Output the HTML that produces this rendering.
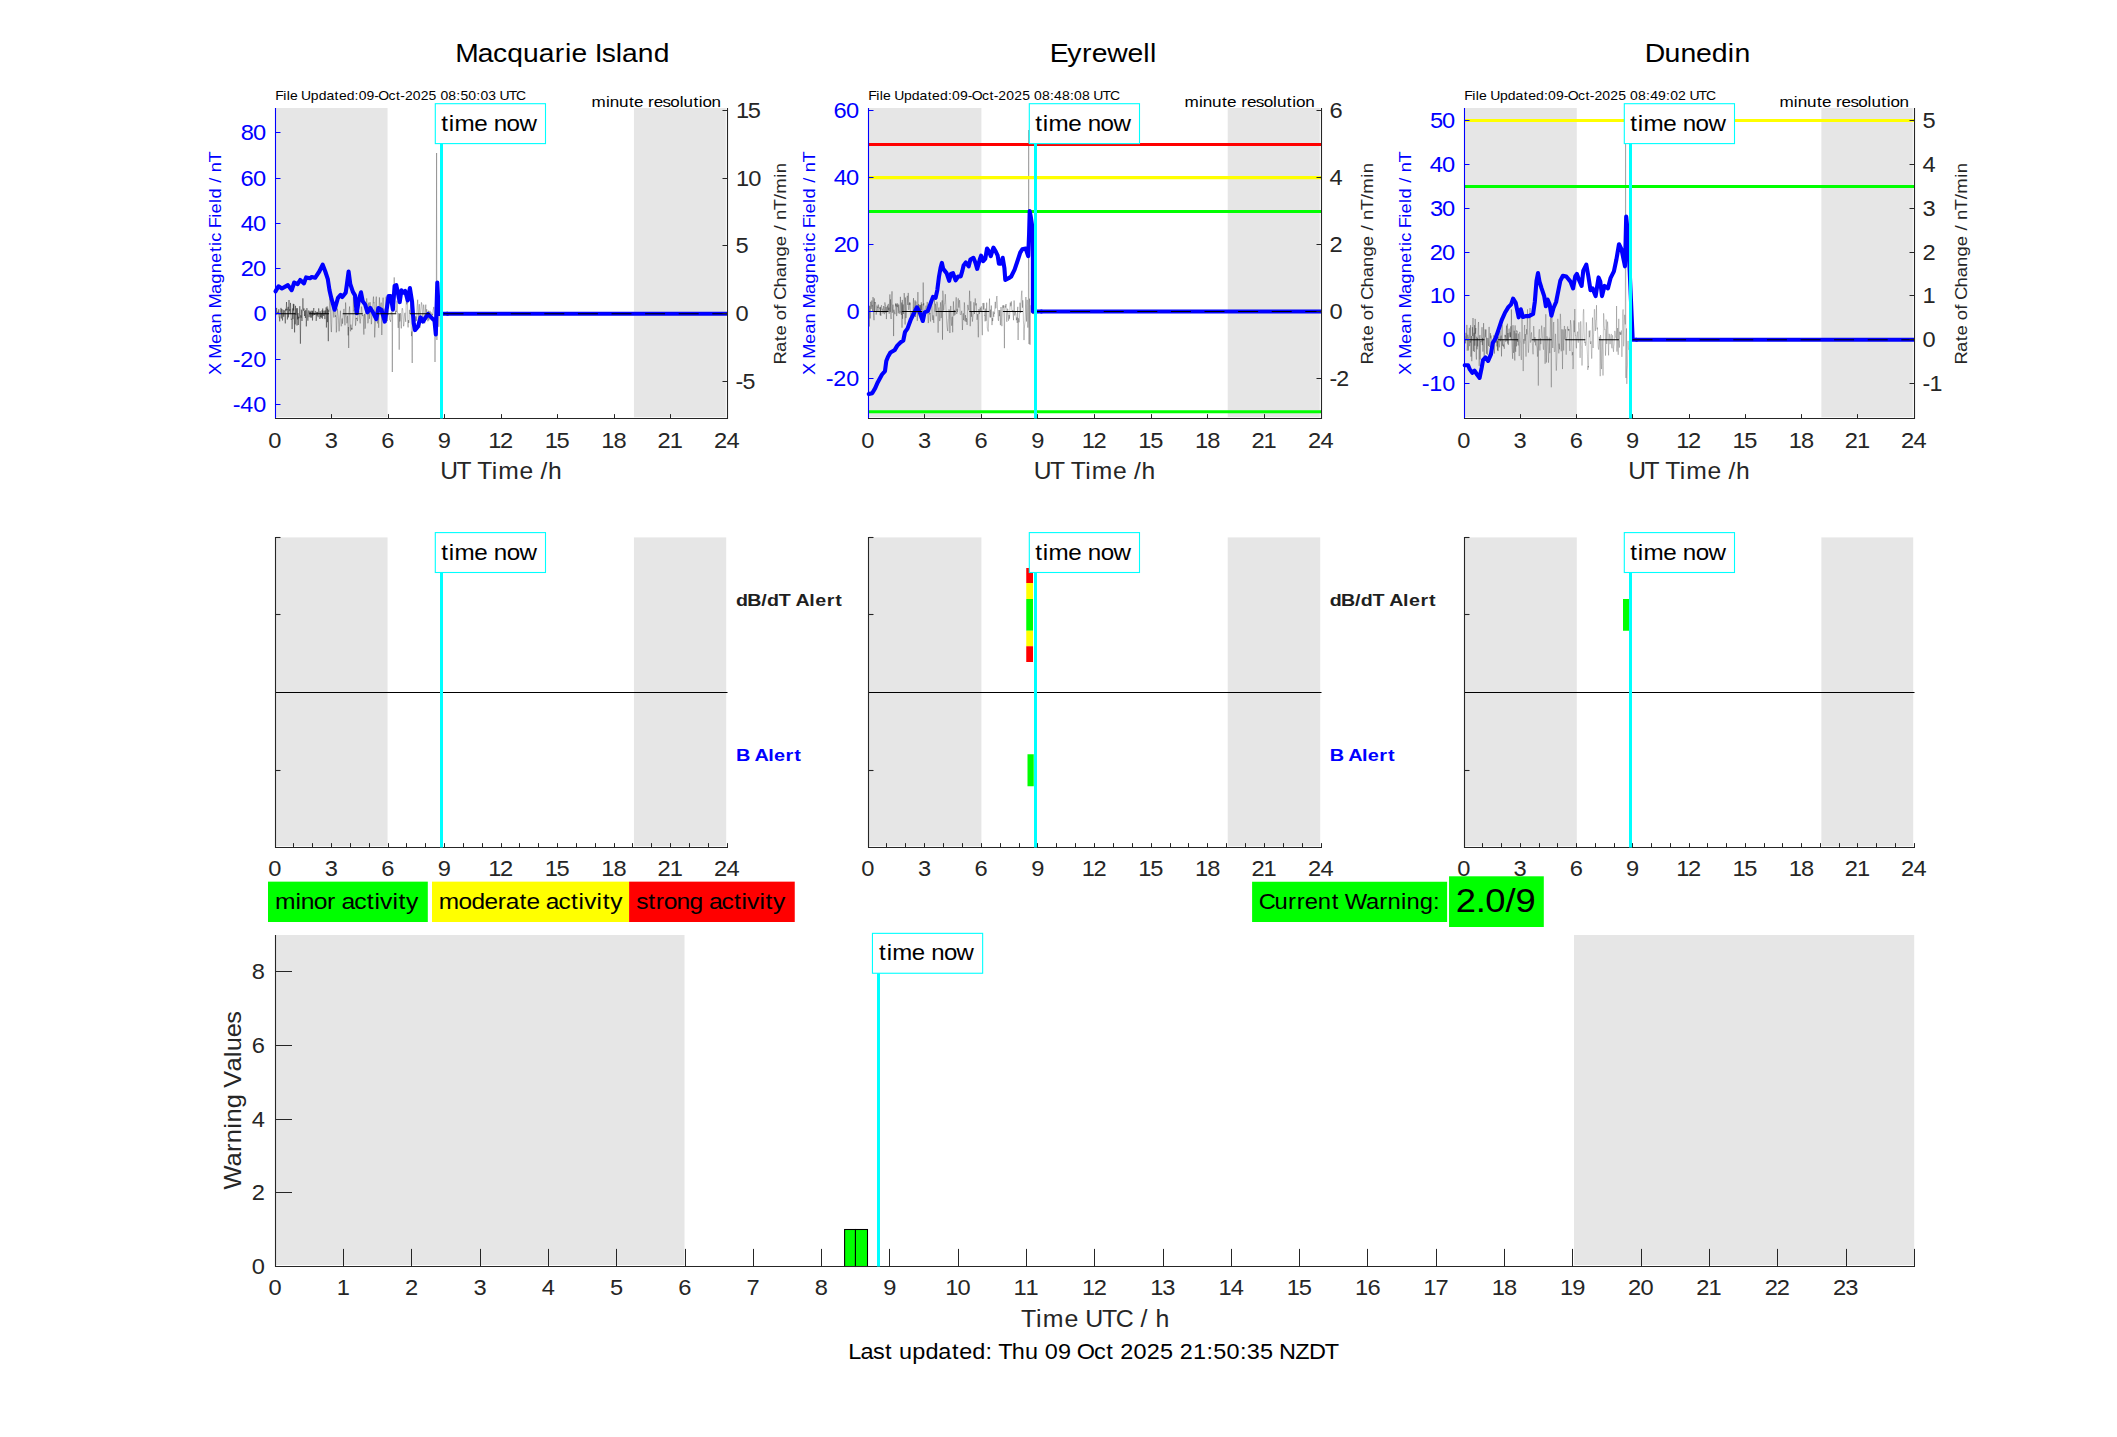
<!DOCTYPE html>
<html lang="en"><head><meta charset="utf-8"><title>Geomagnetic warning plots</title>
<style>html,body{margin:0;padding:0;background:#fff}svg text{font-family:"Liberation Sans",sans-serif;white-space:pre}</style>
</head><body>
<svg width="2117" height="1437" viewBox="0 0 2117 1437" font-family='"Liberation Sans", sans-serif' style="display:block">
<rect x="0.00" y="0.00" width="2117.00" height="1437.00" fill="#FFFFFF"/>
<rect x="276.00" y="108.00" width="111.55" height="309.30" fill="#E6E6E6"/>
<rect x="633.93" y="108.00" width="91.87" height="309.30" fill="#E6E6E6"/>
<polyline points="276.0,315.3 276.3,314.2 276.6,307.9 276.9,312.8 277.2,312.6 277.5,313.5 277.9,311.7 278.2,313.4 278.5,312.2 278.8,309.3 279.1,317.2 279.4,316.9 279.7,321.4 280.0,313.9 280.3,312.4 280.6,312.0 281.0,307.9 281.3,318.5 281.6,309.7 281.9,309.0 282.2,313.0 282.5,320.5 282.8,314.8 283.1,309.8 283.4,310.8 283.7,316.7 284.0,313.1 284.4,310.4 284.7,312.8 285.0,317.5 285.3,323.4 285.6,308.8 285.9,310.9 286.2,310.2 286.5,302.0 286.8,309.9 287.1,308.8 287.4,319.5 287.8,313.2 288.1,306.8 288.4,317.4 288.7,312.1 289.0,300.0 289.3,310.6 289.6,310.8 289.9,309.2 290.2,313.9 290.5,302.9 290.9,312.4 291.2,319.6 291.5,318.8 291.8,320.7 292.1,329.0 292.4,322.3 292.7,308.4 293.0,319.2 293.3,303.8 293.6,310.5 293.9,304.2 294.3,320.6 294.6,332.4 294.9,312.8 295.2,324.4 295.5,305.8 295.8,314.8 296.1,314.7 296.4,308.3 296.7,316.6 297.0,325.5 297.4,308.2 297.7,319.4 298.0,313.0 298.3,325.0 298.6,316.8 298.9,318.3 299.2,318.0 299.5,315.3 299.8,306.2 300.1,322.2 300.4,343.7 300.8,315.3 301.1,317.7 301.4,309.6 301.7,315.8 302.0,321.0 302.3,313.6 302.6,309.5 302.9,298.3 303.2,308.4 303.5,310.7 303.8,308.4 304.2,308.6 304.5,316.0 304.8,311.0 305.1,313.2 305.4,318.0 305.7,309.9 306.0,312.3 306.3,326.4 306.6,319.1 306.9,308.1 307.3,313.4 307.6,317.0 307.9,320.7 308.2,314.6 308.5,311.3 308.8,310.4 309.1,317.2 309.4,315.3 309.7,311.4 310.0,312.9 310.3,312.1 310.7,317.6 311.0,310.8 311.3,316.2 311.6,317.5 311.9,316.2 312.2,310.6 312.5,320.5 312.8,311.3 313.1,315.6 313.4,311.2 313.8,308.0 314.1,314.7 314.4,315.0 314.7,313.5 315.0,314.8 315.3,311.3 315.6,311.1 315.9,313.1 316.2,320.9 316.5,316.6 316.8,311.9 317.2,315.6 317.5,312.2 317.8,312.1 318.1,317.2 318.4,312.0 318.7,308.4 319.0,310.9 319.3,314.1 319.6,314.3 319.9,319.0 320.2,311.3 320.6,317.3 320.9,315.8 321.2,313.2 321.5,317.6 321.8,316.2 322.1,310.3 322.4,318.7 322.7,308.5 323.0,314.0 323.3,313.8 323.7,316.0 324.0,310.8 324.3,313.6 324.6,313.2 324.9,319.1 325.2,310.4 325.5,314.2 325.8,312.6 326.1,307.4 326.4,327.5 326.7,313.4 327.1,306.4 327.4,322.2 327.7,308.7 328.0,315.9 328.3,341.2 328.6,310.4 328.9,311.6 329.2,308.7" fill="none" stroke="#000000" stroke-width="0.5" stroke-opacity="0.72" stroke-linejoin="round"/>
<polyline points="329.2,308.7 329.5,306.3 329.8,298.5 330.2,300.4 330.5,312.4 330.8,322.8 331.1,329.7 331.4,332.1 331.7,323.8 332.0,312.3 332.3,305.5 332.6,296.6 332.9,297.9 333.2,304.9 333.6,314.4 333.9,317.5 334.2,310.0 334.5,302.2 334.8,302.1 335.1,309.0 335.4,316.9 335.7,315.3 336.0,317.2 336.3,332.4 336.6,330.4 337.0,315.7 337.3,308.6 337.6,310.3 337.9,313.6 338.2,316.1 338.5,320.7 338.8,327.0 339.1,331.3 339.4,327.2 339.7,319.1 340.1,314.8 340.4,310.7 340.7,315.1 341.0,325.4 341.3,326.3 341.6,326.0 341.9,319.5 342.2,318.5 342.5,323.7 342.8,319.7 343.1,316.0 343.5,311.9 343.8,309.3 344.1,308.9 344.4,314.4 344.7,322.3 345.0,325.3 345.3,316.1 345.6,302.5 345.9,307.8 346.2,317.0 346.6,317.8 346.9,323.3 347.2,321.3 347.5,315.7 347.8,324.8 348.1,335.4 348.4,327.0 348.7,348.0 349.0,312.5 349.3,309.7 349.6,306.5 350.0,316.2 350.3,331.0 350.6,331.3 350.9,324.6 351.2,327.7 351.5,329.6 351.8,327.9 352.1,329.6 352.4,326.8 352.7,322.2 353.0,317.1 353.4,296.6 353.7,307.1 354.0,311.4 354.3,310.0 354.6,309.4 354.9,308.9 355.2,315.8 355.5,325.7 355.8,323.7 356.1,318.1 356.5,319.0 356.8,317.8 357.1,318.3 357.4,321.1 357.7,318.9 358.0,312.9 358.3,314.3 358.6,313.4 358.9,311.1 359.2,314.0 359.5,316.3 359.9,321.7 360.2,323.4 360.5,319.0 360.8,318.4 361.1,313.8 361.4,306.6 361.7,307.6 362.0,311.4 362.3,313.5 362.6,316.1 363.0,314.8 363.3,316.3 363.6,329.2 363.9,334.6 364.2,320.2 364.5,313.9 364.8,319.4 365.1,328.7 365.4,326.8 365.7,310.4 366.0,304.3 366.4,302.4 366.7,298.4 367.0,301.5 367.3,307.2 367.6,312.3 367.9,323.3 368.2,321.6 368.5,306.7 368.8,302.6 369.1,311.3 369.4,318.8 369.8,308.2 370.1,302.2 370.4,309.7 370.7,313.9 371.0,316.5 371.3,324.2 371.6,322.9 371.9,314.9 372.2,309.7 372.5,310.0 372.9,305.2 373.2,298.9 373.5,296.6 373.8,303.2 374.1,302.5 374.4,310.4 374.7,337.4 375.0,328.7 375.3,326.1 375.6,319.6 375.9,301.0 376.3,296.6 376.6,307.2 376.9,320.0 377.2,321.0 377.5,323.4 377.8,318.1 378.1,308.1 378.4,317.8 378.7,327.8 379.0,309.7 379.4,297.4 379.7,303.5 380.0,311.4 380.3,311.9 380.6,309.7 380.9,304.4 381.2,302.6 381.5,318.1 381.8,335.0 382.1,323.8 382.4,309.4 382.8,302.4 383.1,297.6 383.4,306.5 383.7,311.2 384.0,308.7 384.3,313.2 384.6,319.7 384.9,321.5 385.2,318.9 385.5,309.8 385.8,298.3 386.2,296.6 386.5,308.3 386.8,314.2 387.1,319.8 387.4,321.1 387.7,312.4 388.0,310.4 388.3,314.0 388.6,314.8 388.9,314.4 389.3,316.0 389.6,319.7 389.9,319.8 390.2,320.1 390.5,321.8 390.8,318.3 391.1,311.7 391.4,311.7 391.7,313.4 392.0,317.4 392.3,372.0 392.7,307.5 393.0,303.6 393.3,307.0 393.6,307.9 393.9,305.9 394.2,277.4 394.5,306.2 394.8,305.7 395.1,307.3 395.4,313.2 395.8,311.1 396.1,310.8 396.4,312.2 396.7,308.0 397.0,300.6 397.3,307.2 397.6,315.7 397.9,325.0 398.2,327.9 398.5,323.3 398.8,313.1 399.2,349.7 399.5,313.7 399.8,321.5 400.1,320.4 400.4,313.1 400.7,314.8 401.0,323.9 401.3,328.4 401.6,319.4 401.9,309.9 402.2,308.2 402.6,308.8 402.9,311.6 403.2,320.0 403.5,326.1 403.8,326.3 404.1,322.8 404.4,316.0 404.7,313.5 405.0,312.8 405.3,316.8 405.7,321.8 406.0,311.9 406.3,296.6 406.6,304.3 406.9,304.2 407.2,301.1 407.5,299.2 407.8,324.4 408.1,327.4 408.4,320.1 408.7,323.0 409.1,322.1 409.4,310.4 409.7,309.8 410.0,313.9 410.3,309.6 410.6,303.3 410.9,309.5 411.2,325.7 411.5,336.1 411.8,331.5 412.2,363.0 412.5,330.0 412.8,320.5 413.1,309.8 413.4,313.2 413.7,315.9 414.0,316.2 414.3,319.9 414.6,324.3 414.9,319.8 415.2,316.2 415.6,321.6 415.9,318.0 416.2,316.5 416.5,320.9 416.8,313.1 417.1,306.3 417.4,302.9 417.7,299.7 418.0,311.4 418.3,323.2 418.6,314.0 419.0,306.7 419.3,304.2 419.6,311.0 419.9,327.7 420.2,324.3 420.5,312.8 420.8,309.1 421.1,306.1 421.4,302.4 421.7,303.1 422.1,306.0 422.4,315.1 422.7,320.9 423.0,319.2 423.3,309.9 423.6,304.7 423.9,305.8 424.2,310.8 424.5,318.9 424.8,323.3 425.1,319.8 425.5,308.7 425.8,304.6 426.1,318.7 426.4,319.9 426.7,309.2 427.0,313.7 427.3,318.5 427.6,316.4 427.9,321.3 428.2,313.7 428.6,310.7 428.9,320.3 429.2,318.0 429.5,313.4 429.8,311.4 430.1,310.9 430.4,316.1 430.7,315.2 431.0,312.3 431.3,313.6 431.6,317.9 432.0,317.7 432.3,313.8 432.6,315.1 432.9,312.7 433.2,309.1 433.5,308.9 433.8,306.9 434.1,310.7 434.4,316.4 434.7,318.1 435.0,362.0 435.4,316.2 435.7,307.1 436.0,301.9 436.3,307.3 436.6,153.0 436.9,340.0 437.2,312.5 437.5,312.5 437.8,306.2 438.1,304.9 438.5,316.7 438.8,326.8 439.1,319.8 439.4,311.5 439.7,315.9" fill="none" stroke="#000000" stroke-width="0.5" stroke-opacity="0.5" stroke-linejoin="round"/>
<polyline points="275.5,291.4 278.5,286.3 281.9,288.5 287.9,285.1 291.7,290.2 294.2,282.5 297.6,284.2 300.2,280.0 304.0,283.4 306.1,277.4 310.0,278.3 311.7,277.0 315.1,277.8 319.3,271.5 322.7,264.7 325.3,271.5 327.8,279.1 329.5,290.2 331.2,297.8 334.6,309.7 338.0,297.8 340.6,294.8 342.3,297.0 345.7,292.7 346.9,284.2 348.6,271.5 350.3,284.2 352.9,291.9 355.0,295.3 356.7,313.1 358.9,299.5 361.0,292.3 362.7,301.2 365.2,304.6 367.4,312.3 370.3,308.0 372.9,312.3 376.3,319.1 378.4,308.0 381.4,309.7 384.8,321.6 386.9,308.0 388.6,296.1 390.7,296.1 392.9,309.7 394.6,285.9 396.3,285.1 397.5,291.0 399.7,302.1 401.4,290.2 403.5,292.7 405.2,291.0 407.7,300.4 409.9,288.0 412.0,301.2 413.7,323.3 415.0,330.1 417.9,326.7 420.5,317.4 423.0,321.6 425.6,317.4 428.1,314.0 430.7,316.9 434.5,320.8 435.8,334.4 437.3,282.5 438.8,314.0 443.7,313.8 447.5,313.8" fill="none" stroke="#0000FF" stroke-width="4.1" stroke-linejoin="round" stroke-linecap="round"/>
<line x1="446.50" y1="313.75" x2="727.00" y2="313.75" stroke="#0000FF" stroke-width="4.1"/>
<line x1="275.50" y1="313.75" x2="727.00" y2="313.75" stroke="#000000" stroke-width="1.1" stroke-dasharray="20 13.6"/>
<line x1="275.50" y1="108.00" x2="275.50" y2="419.00" stroke="#0000FF" stroke-width="1.1"/>
<line x1="727.50" y1="108.00" x2="727.50" y2="419.00" stroke="#262626" stroke-width="1.1"/>
<line x1="275.00" y1="418.50" x2="728.00" y2="418.50" stroke="#262626" stroke-width="1.1"/>
<text transform="translate(268.32,447.55) scale(1.1107,1)" x="0.00" font-size="21.32" fill="#262626">0</text>
<line x1="331.50" y1="418.50" x2="331.50" y2="414.10" stroke="#262626" stroke-width="1.05"/>
<text transform="translate(324.82,447.55) scale(1.1107,1)" x="0.00" font-size="21.32" fill="#262626">3</text>
<line x1="388.50" y1="418.50" x2="388.50" y2="414.10" stroke="#262626" stroke-width="1.05"/>
<text transform="translate(381.32,447.55) scale(1.1107,1)" x="0.00" font-size="21.32" fill="#262626">6</text>
<line x1="444.50" y1="418.50" x2="444.50" y2="414.10" stroke="#262626" stroke-width="1.05"/>
<text transform="translate(437.82,447.55) scale(1.1107,1)" x="0.00" font-size="21.32" fill="#262626">9</text>
<line x1="501.50" y1="418.50" x2="501.50" y2="414.10" stroke="#262626" stroke-width="1.05"/>
<text transform="translate(487.73,447.55) scale(1.1107,1)" x="0.42 11.06" font-size="21.32" fill="#262626">12</text>
<line x1="557.50" y1="418.50" x2="557.50" y2="414.10" stroke="#262626" stroke-width="1.05"/>
<text transform="translate(544.23,447.55) scale(1.1107,1)" x="0.42 11.12" font-size="21.32" fill="#262626">15</text>
<line x1="614.50" y1="418.50" x2="614.50" y2="414.10" stroke="#262626" stroke-width="1.05"/>
<text transform="translate(600.73,447.55) scale(1.1107,1)" x="0.42 11.51" font-size="21.32" fill="#262626">18</text>
<line x1="670.50" y1="418.50" x2="670.50" y2="414.10" stroke="#262626" stroke-width="1.05"/>
<text transform="translate(657.23,447.55) scale(1.1107,1)" x="0.29 11.18" font-size="21.32" fill="#262626">21</text>
<text transform="translate(713.73,447.55) scale(1.1107,1)" x="0.29 11.44" font-size="21.32" fill="#262626">24</text>
<line x1="275.50" y1="132.50" x2="280.50" y2="132.50" stroke="#0000FF" stroke-width="1.05"/>
<text transform="translate(240.36,139.50) scale(1.1107,1)" x="0.34 11.45" font-size="21.32" fill="#0000FF">80</text>
<line x1="275.50" y1="178.50" x2="280.50" y2="178.50" stroke="#0000FF" stroke-width="1.05"/>
<text transform="translate(240.36,185.50) scale(1.1107,1)" x="0.22 11.45" font-size="21.32" fill="#0000FF">60</text>
<line x1="275.50" y1="223.50" x2="280.50" y2="223.50" stroke="#0000FF" stroke-width="1.05"/>
<text transform="translate(240.36,230.50) scale(1.1107,1)" x="0.42 11.45" font-size="21.32" fill="#0000FF">40</text>
<line x1="275.50" y1="268.50" x2="280.50" y2="268.50" stroke="#0000FF" stroke-width="1.05"/>
<text transform="translate(240.36,275.50) scale(1.1107,1)" x="0.29 11.45" font-size="21.32" fill="#0000FF">20</text>
<line x1="275.50" y1="313.50" x2="280.50" y2="313.50" stroke="#0000FF" stroke-width="1.05"/>
<text transform="translate(253.53,320.50) scale(1.1107,1)" x="0.00" font-size="21.32" fill="#0000FF">0</text>
<line x1="275.50" y1="359.50" x2="280.50" y2="359.50" stroke="#0000FF" stroke-width="1.05"/>
<text transform="translate(232.89,366.50) scale(1.0972,1)" x="-0.03 6.77 18.54" font-size="21.32" fill="#0000FF">-20</text>
<line x1="275.50" y1="404.50" x2="280.50" y2="404.50" stroke="#0000FF" stroke-width="1.05"/>
<text transform="translate(232.89,411.50) scale(1.0972,1)" x="-0.03 6.77 18.54" font-size="21.32" fill="#0000FF">-40</text>
<line x1="727.50" y1="110.50" x2="722.50" y2="110.50" stroke="#262626" stroke-width="1.05"/>
<text transform="translate(735.50,117.80) scale(1.1107,1)" x="0.42 11.12" font-size="21.32" fill="#262626">15</text>
<line x1="727.50" y1="178.50" x2="722.50" y2="178.50" stroke="#262626" stroke-width="1.05"/>
<text transform="translate(735.50,185.80) scale(1.1107,1)" x="0.42 11.45" font-size="21.32" fill="#262626">10</text>
<line x1="727.50" y1="245.50" x2="722.50" y2="245.50" stroke="#262626" stroke-width="1.05"/>
<text transform="translate(735.50,252.80) scale(1.1107,1)" x="0.00" font-size="21.32" fill="#262626">5</text>
<line x1="727.50" y1="313.50" x2="722.50" y2="313.50" stroke="#262626" stroke-width="1.05"/>
<text transform="translate(735.50,320.80) scale(1.1107,1)" x="0.00" font-size="21.32" fill="#262626">0</text>
<line x1="727.50" y1="381.50" x2="722.50" y2="381.50" stroke="#262626" stroke-width="1.05"/>
<text transform="translate(735.50,388.80) scale(1.0887,1)" x="-0.02 6.33" font-size="21.32" fill="#262626">-5</text>
<line x1="441.50" y1="104.00" x2="441.50" y2="418.50" stroke="#00FFFF" stroke-width="3.0"/>
<rect x="435.30" y="103.70" width="110.20" height="39.90" fill="#FFFFFF" stroke="#00FFFF" stroke-width="1.1"/>
<text transform="translate(441.04,130.65) scale(1.1260,1)" x="0.17 6.90 11.86 29.47 41.03 46.77 58.23 69.62" font-size="21.48" fill="#000000">time now</text>
<text transform="translate(455.08,62.00) scale(1.0842,1)" x="0.15 20.86 35.05 48.04 62.74 77.18 91.92 101.31 107.29 121.70 128.75 135.29 148.12 154.07 168.51 183.21" font-size="26.02" fill="#000000">Macquarie Island</text>
<text transform="translate(275.27,99.80) scale(1.0832,1)" x="0.08 7.46 10.62 13.58 20.71 23.87 32.77 40.06 47.21 54.75 58.73 65.90 73.25 77.03 84.33 91.48 95.19 104.65 111.47 115.42 119.69 126.99 134.28 141.58 148.83 152.50 159.80 167.16 170.94 178.24 185.60 189.38 196.68 203.93 207.09 215.51 222.30" font-size="12.87" fill="#000000">File Updated:09-Oct-2025 08:50:03 UTC</text>
<text transform="translate(591.36,106.60) scale(1.1259,1)" x="0.18 12.96 16.37 24.63 33.42 37.87 46.05 50.37 55.37 63.19 70.15 78.47 81.87 90.66 95.44 98.70 106.81" font-size="15.15" fill="#000000">minute resolution</text>
<text transform="translate(440.08,478.70) scale(1.0656,1)" x="0.05 15.40 28.95 34.80 48.58 54.62 74.48 87.45 94.27 101.19" font-size="23.12" fill="#262626">UT Time /h</text>
<text transform="translate(220.90,375.19) rotate(-90) scale(1.0751,1)" x="0.08 11.06 15.38 29.05 38.45 48.00 57.64 61.97 75.62 85.17 94.89 104.45 114.52 120.11 124.08 132.61 136.61 146.44 150.43 160.10 164.24 173.90 178.90 183.90 188.82 197.88" font-size="17.00" fill="#0000FF">X Mean Magnetic Field / nT</text>
<text transform="translate(785.90,364.53) rotate(-90) scale(1.0857,1)" x="0.10 11.44 21.43 26.69 36.13 40.79 50.47 55.53 59.44 70.97 80.42 89.88 99.51 108.99 118.43 123.38 128.32 133.16 142.14 152.16 157.37 172.08 176.13" font-size="17.06" fill="#262626">Rate of Change / nT/min</text>
<rect x="869.00" y="108.00" width="112.40" height="309.30" fill="#E6E6E6"/>
<rect x="1227.72" y="108.00" width="92.08" height="309.30" fill="#E6E6E6"/>
<polyline points="869.0,305.3 869.3,326.5 869.6,305.9 869.9,308.3 870.2,318.5 870.6,301.8 870.9,303.8 871.2,308.9 871.5,305.4 871.8,300.5 872.1,306.3 872.4,305.4 872.7,311.9 873.0,297.0 873.4,303.2 873.7,315.6 874.0,320.2 874.3,298.4 874.6,311.8 874.9,302.0 875.2,303.1 875.5,302.6 875.8,305.3 876.2,314.6 876.5,311.8 876.8,307.9 877.1,305.6 877.4,307.5 877.7,307.0 878.0,312.1 878.3,304.5 878.7,307.5 879.0,307.0 879.3,307.2 879.6,309.1 879.9,308.6 880.2,315.2 880.5,307.1 880.8,315.9 881.1,306.0 881.5,305.3 881.8,308.0 882.1,309.5 882.4,308.8 882.7,313.4 883.0,313.2 883.3,313.0 883.6,306.0 883.9,307.1 884.3,314.2 884.6,308.6 884.9,302.4 885.2,305.1 885.5,305.1 885.8,312.9 886.1,307.0 886.4,319.1 886.7,310.8 887.1,308.1 887.4,305.6 887.7,312.0 888.0,306.4 888.3,303.9 888.6,310.4 888.9,307.6 889.2,313.7 889.5,307.2 889.9,294.4 890.2,312.0 890.5,299.4 890.8,315.8 891.1,319.0 891.4,305.5 891.7,301.9 892.0,291.3 892.3,312.8 892.7,306.5 893.0,304.6 893.3,306.2 893.6,336.1 893.9,309.7 894.2,312.3 894.5,312.3 894.8,314.2 895.2,314.1 895.5,303.6 895.8,306.4 896.1,303.4 896.4,303.7 896.7,316.1 897.0,304.5 897.3,307.1 897.6,303.3 898.0,304.1 898.3,313.3 898.6,304.8 898.9,304.6 899.2,311.4 899.5,311.3 899.8,313.8 900.1,308.7 900.4,296.8 900.8,312.4 901.1,311.3 901.4,314.9 901.7,302.5 902.0,327.7 902.3,299.9 902.6,318.8 902.9,307.9 903.2,304.5 903.6,314.0 903.9,305.8 904.2,293.1 904.5,299.5 904.8,311.1 905.1,324.5 905.4,297.5 905.7,307.4 906.0,318.1 906.4,312.0 906.7,305.0 907.0,297.8 907.3,295.8 907.6,302.7 907.9,305.0 908.2,292.9 908.5,296.1 908.8,309.9 909.2,305.0 909.5,302.5 909.8,304.9 910.1,302.6 910.4,314.1 910.7,319.2 911.0,322.9 911.3,312.3 911.7,312.8 912.0,317.7 912.3,319.2 912.6,318.0 912.9,315.9 913.2,303.5 913.5,298.1 913.8,313.2 914.1,307.0 914.5,307.2 914.8,302.2 915.1,300.3 915.4,317.0 915.7,310.8 916.0,301.5 916.3,310.1 916.6,309.6 916.9,310.6 917.3,320.8 917.6,307.3 917.9,292.1 918.2,307.7 918.5,304.2 918.8,310.7 919.1,308.9 919.4,309.6 919.7,304.8 920.1,309.8 920.4,305.1 920.7,310.1 921.0,306.2 921.3,302.3 921.6,310.3 921.9,304.1 922.2,315.1 922.5,319.7" fill="none" stroke="#000000" stroke-width="0.5" stroke-opacity="0.5" stroke-linejoin="round"/>
<polyline points="922.5,319.7 922.9,316.3 923.2,282.5 923.5,305.4 923.8,303.2 924.1,309.8 924.4,313.2 924.7,312.8 925.0,310.4 925.3,309.0 925.7,307.6 926.0,305.6 926.3,309.0 926.6,312.7 926.9,307.0 927.2,301.9 927.5,306.4 927.8,315.2 928.2,323.1 928.5,322.3 928.8,312.9 929.1,309.3 929.4,314.4 929.7,314.0 930.0,313.0 930.3,319.9 930.6,321.5 931.0,313.1 931.3,303.8 931.6,297.5 931.9,299.2 932.2,307.7 932.5,316.5 932.8,320.1 933.1,315.4 933.4,318.4 933.8,322.9 934.1,307.3 934.4,297.9 934.7,304.0 935.0,311.9 935.3,309.2 935.6,303.7 935.9,307.0 936.2,316.3 936.6,308.3 936.9,301.7 937.2,303.1 937.5,304.0 937.8,311.8 938.1,332.7 938.4,313.3 938.7,308.0 939.0,307.5 939.4,311.8 939.7,321.1 940.0,318.7 940.3,306.9 940.6,302.3 940.9,310.1 941.2,318.1 941.5,314.9 941.8,303.8 942.2,300.4 942.5,339.7 942.8,290.7 943.1,294.1 943.4,303.9 943.7,310.5 944.0,306.2 944.3,304.3 944.7,304.0 945.0,298.3 945.3,294.2 945.6,300.1 945.9,306.4 946.2,311.5 946.5,316.9 946.8,323.2 947.1,327.0 947.5,329.8 947.8,331.1 948.1,323.1 948.4,319.3 948.7,318.8 949.0,309.4 949.3,310.9 949.6,317.9 949.9,333.0 950.3,313.2 950.6,306.1 950.9,306.1 951.2,317.4 951.5,325.7 951.8,325.3 952.1,317.2 952.4,316.7 952.7,332.3 953.1,312.6 953.4,301.4 953.7,308.1 954.0,315.8 954.3,310.0 954.6,310.0 954.9,314.6 955.2,314.8 955.5,309.9 955.9,301.9 956.2,297.3 956.5,307.7 956.8,314.0 957.1,308.9 957.4,312.1 957.7,310.5 958.0,300.0 958.3,298.4 958.7,307.2 959.0,307.7 959.3,301.9 959.6,300.2 959.9,304.8 960.2,314.2 960.5,314.7 960.8,315.0 961.2,314.2 961.5,311.5 961.8,310.8 962.1,321.0 962.4,330.0 962.7,324.0 963.0,315.1 963.3,313.3 963.6,320.1 964.0,317.4 964.3,302.4 964.6,305.4 964.9,321.2 965.2,320.0 965.5,315.2 965.8,318.8 966.1,322.0 966.4,318.2 966.8,319.3 967.1,324.9 967.4,315.2 967.7,304.9 968.0,305.4 968.3,308.1 968.6,308.8 968.9,310.4 969.2,303.3 969.6,290.7 969.9,300.9 970.2,326.2 970.5,316.3 970.8,301.3 971.1,309.1 971.4,316.8 971.7,312.0 972.0,313.8 972.4,321.6 972.7,319.0 973.0,315.4 973.3,314.1 973.6,308.5 973.9,302.3 974.2,307.0 974.5,314.0 974.8,309.1 975.2,298.4 975.5,302.8 975.8,305.4 976.1,304.3 976.4,303.4 976.7,313.6 977.0,319.8 977.3,317.6 977.7,314.0 978.0,326.6 978.3,337.3 978.6,321.7 978.9,309.1 979.2,313.6 979.5,314.0 979.8,310.0 980.1,307.6 980.5,308.3 980.8,311.1 981.1,306.6 981.4,306.5 981.7,314.2 982.0,326.7 982.3,335.2 982.6,318.4 982.9,303.1 983.3,305.7 983.6,309.5 983.9,302.9 984.2,305.4 984.5,315.5 984.8,315.0 985.1,321.4 985.4,315.0 985.7,308.6 986.1,320.8 986.4,312.7 986.7,302.6 987.0,313.4 987.3,328.2 987.6,328.9 987.9,330.3 988.2,331.5 988.5,323.8 988.9,314.8 989.2,305.3 989.5,298.6 989.8,311.0 990.1,317.4 990.4,309.6 990.7,317.4 991.0,316.1 991.3,305.5 991.7,315.7 992.0,325.1 992.3,318.0 992.6,321.1 992.9,320.2 993.2,311.4 993.5,315.6 993.8,316.8 994.2,312.6 994.5,313.6 994.8,309.5 995.1,301.8 995.4,302.0 995.7,308.4 996.0,308.0 996.3,302.6 996.6,296.9 997.0,296.0 997.3,304.2 997.6,311.1 997.9,313.8 998.2,320.0 998.5,320.8 998.8,310.0 999.1,310.6 999.4,316.2 999.8,310.2 1000.1,316.4 1000.4,325.2 1000.7,313.5 1001.0,307.0 1001.3,312.1 1001.6,322.2 1001.9,326.2 1002.2,316.1 1002.6,306.1 1002.9,305.3 1003.2,307.8 1003.5,305.4 1003.8,313.1 1004.1,321.7 1004.4,348.2 1004.7,312.3 1005.0,305.6 1005.4,307.5 1005.7,306.7 1006.0,304.0 1006.3,310.5 1006.6,320.7 1006.9,321.8 1007.2,315.2 1007.5,308.7 1007.8,309.0 1008.2,315.0 1008.5,320.7 1008.8,320.0 1009.1,315.0 1009.4,318.7 1009.7,314.9 1010.0,305.4 1010.3,302.6 1010.7,306.2 1011.0,305.9 1011.3,301.4 1011.6,305.6 1011.9,310.0 1012.2,311.8 1012.5,312.0 1012.8,310.3 1013.1,314.0 1013.5,320.2 1013.8,307.4 1014.1,300.5 1014.4,306.0 1014.7,315.5 1015.0,314.0 1015.3,311.3 1015.6,313.4 1015.9,313.7 1016.3,320.2 1016.6,319.3 1016.9,317.4 1017.2,322.9 1017.5,310.0 1017.8,306.8 1018.1,340.0 1018.4,318.3 1018.7,319.3 1019.1,322.3 1019.4,320.0 1019.7,310.0 1020.0,302.7 1020.3,308.8 1020.6,312.9 1020.9,306.2 1021.2,299.0 1021.5,293.6 1021.9,290.7 1022.2,301.1 1022.5,307.7 1022.8,300.3 1023.1,305.0 1023.4,320.7 1023.7,324.8 1024.0,340.1 1024.3,328.8 1024.7,324.6 1025.0,322.1 1025.3,314.9 1025.6,303.6 1025.9,297.0 1026.2,310.9 1026.5,321.5 1026.8,306.2 1027.2,299.8 1027.5,312.3 1027.8,327.6 1028.1,320.9 1028.4,305.9 1028.7,130.0 1029.0,344.0 1029.3,302.7 1029.6,298.6 1030.0,344.8 1030.3,313.2 1030.6,310.9 1030.9,306.6 1031.2,305.1 1031.5,309.9 1031.8,307.2 1032.1,307.0 1032.4,314.0 1032.8,310.7 1033.1,309.4 1033.4,314.1 1033.7,310.5" fill="none" stroke="#000000" stroke-width="0.5" stroke-opacity="0.48" stroke-linejoin="round"/>
<line x1="869.00" y1="144.40" x2="1321.00" y2="144.40" stroke="#FF0000" stroke-width="3.05"/>
<line x1="869.00" y1="177.60" x2="1321.00" y2="177.60" stroke="#FFFF00" stroke-width="3.05"/>
<line x1="869.00" y1="211.40" x2="1321.00" y2="211.40" stroke="#00FF00" stroke-width="3.05"/>
<line x1="869.00" y1="411.65" x2="1321.00" y2="411.65" stroke="#00FF00" stroke-width="3.05"/>
<polyline points="868.8,394.1 872.2,393.2 875.2,388.1 877.8,382.2 882.0,374.5 885.0,371.1 886.3,360.9 888.0,356.7 890.5,352.4 894.8,349.9 897.3,345.6 900.7,342.2 903.3,340.5 905.0,332.0 907.5,328.6 910.9,319.3 914.3,312.5 916.9,307.4 919.4,311.6 922.8,321.0 924.5,312.5 927.9,310.8 931.3,301.4 933.0,296.9 935.6,297.8 937.3,290.1 939.0,276.5 940.7,267.2 941.9,262.9 943.2,268.9 946.6,273.1 949.2,280.8 950.9,274.0 953.0,273.1 955.6,280.3 958.1,276.5 960.7,276.5 962.4,270.6 963.6,265.5 965.8,262.5 968.7,266.3 970.4,259.5 973.4,257.8 975.5,262.9 977.2,268.9 979.8,259.5 981.1,255.7 983.2,261.2 985.3,258.7 987.0,248.5 988.7,251.0 990.8,256.1 993.4,247.6 995.9,251.9 997.6,255.3 998.9,263.8 1001.0,263.8 1002.7,257.8 1004.4,268.0 1005.3,279.9 1008.7,278.2 1011.2,276.5 1014.6,269.7 1018.0,259.5 1020.2,252.7 1022.3,249.3 1025.7,248.5 1028.2,256.1 1029.1,234.0 1029.7,211.1 1030.8,217.0 1032.1,225.5 1032.9,242.5 1032.9,311.4 1037.7,311.5 1041.5,311.5" fill="none" stroke="#0000FF" stroke-width="4.1" stroke-linejoin="round" stroke-linecap="round"/>
<line x1="1040.50" y1="311.50" x2="1321.00" y2="311.50" stroke="#0000FF" stroke-width="4.1"/>
<line x1="868.50" y1="311.50" x2="1321.00" y2="311.50" stroke="#000000" stroke-width="1.1" stroke-dasharray="20 13.6"/>
<line x1="868.50" y1="108.00" x2="868.50" y2="419.00" stroke="#0000FF" stroke-width="1.1"/>
<line x1="1321.50" y1="108.00" x2="1321.50" y2="419.00" stroke="#262626" stroke-width="1.1"/>
<line x1="868.00" y1="418.50" x2="1322.00" y2="418.50" stroke="#262626" stroke-width="1.1"/>
<text transform="translate(861.32,447.55) scale(1.1107,1)" x="0.00" font-size="21.32" fill="#262626">0</text>
<line x1="924.50" y1="418.50" x2="924.50" y2="414.10" stroke="#262626" stroke-width="1.05"/>
<text transform="translate(917.94,447.55) scale(1.1107,1)" x="0.00" font-size="21.32" fill="#262626">3</text>
<line x1="981.50" y1="418.50" x2="981.50" y2="414.10" stroke="#262626" stroke-width="1.05"/>
<text transform="translate(974.57,447.55) scale(1.1107,1)" x="0.00" font-size="21.32" fill="#262626">6</text>
<line x1="1037.50" y1="418.50" x2="1037.50" y2="414.10" stroke="#262626" stroke-width="1.05"/>
<text transform="translate(1031.19,447.55) scale(1.1107,1)" x="0.00" font-size="21.32" fill="#262626">9</text>
<line x1="1094.50" y1="418.50" x2="1094.50" y2="414.10" stroke="#262626" stroke-width="1.05"/>
<text transform="translate(1081.23,447.55) scale(1.1107,1)" x="0.42 11.06" font-size="21.32" fill="#262626">12</text>
<line x1="1151.50" y1="418.50" x2="1151.50" y2="414.10" stroke="#262626" stroke-width="1.05"/>
<text transform="translate(1137.86,447.55) scale(1.1107,1)" x="0.42 11.12" font-size="21.32" fill="#262626">15</text>
<line x1="1207.50" y1="418.50" x2="1207.50" y2="414.10" stroke="#262626" stroke-width="1.05"/>
<text transform="translate(1194.48,447.55) scale(1.1107,1)" x="0.42 11.51" font-size="21.32" fill="#262626">18</text>
<line x1="1264.50" y1="418.50" x2="1264.50" y2="414.10" stroke="#262626" stroke-width="1.05"/>
<text transform="translate(1251.11,447.55) scale(1.1107,1)" x="0.29 11.18" font-size="21.32" fill="#262626">21</text>
<text transform="translate(1307.73,447.55) scale(1.1107,1)" x="0.29 11.44" font-size="21.32" fill="#262626">24</text>
<line x1="868.50" y1="110.50" x2="873.50" y2="110.50" stroke="#0000FF" stroke-width="1.05"/>
<text transform="translate(833.36,117.50) scale(1.1107,1)" x="0.22 11.45" font-size="21.32" fill="#0000FF">60</text>
<line x1="868.50" y1="177.50" x2="873.50" y2="177.50" stroke="#0000FF" stroke-width="1.05"/>
<text transform="translate(833.36,184.50) scale(1.1107,1)" x="0.42 11.45" font-size="21.32" fill="#0000FF">40</text>
<line x1="868.50" y1="244.50" x2="873.50" y2="244.50" stroke="#0000FF" stroke-width="1.05"/>
<text transform="translate(833.36,251.50) scale(1.1107,1)" x="0.29 11.45" font-size="21.32" fill="#0000FF">20</text>
<line x1="868.50" y1="311.50" x2="873.50" y2="311.50" stroke="#0000FF" stroke-width="1.05"/>
<text transform="translate(846.53,318.50) scale(1.1107,1)" x="0.00" font-size="21.32" fill="#0000FF">0</text>
<line x1="868.50" y1="378.50" x2="873.50" y2="378.50" stroke="#0000FF" stroke-width="1.05"/>
<text transform="translate(825.89,385.50) scale(1.0972,1)" x="-0.03 6.77 18.54" font-size="21.32" fill="#0000FF">-20</text>
<line x1="1321.50" y1="110.50" x2="1316.50" y2="110.50" stroke="#262626" stroke-width="1.05"/>
<text transform="translate(1329.50,117.80) scale(1.1107,1)" x="0.00" font-size="21.32" fill="#262626">6</text>
<line x1="1321.50" y1="177.50" x2="1316.50" y2="177.50" stroke="#262626" stroke-width="1.05"/>
<text transform="translate(1329.50,184.80) scale(1.1107,1)" x="0.00" font-size="21.32" fill="#262626">4</text>
<line x1="1321.50" y1="244.50" x2="1316.50" y2="244.50" stroke="#262626" stroke-width="1.05"/>
<text transform="translate(1329.50,251.80) scale(1.1107,1)" x="0.00" font-size="21.32" fill="#262626">2</text>
<line x1="1321.50" y1="311.50" x2="1316.50" y2="311.50" stroke="#262626" stroke-width="1.05"/>
<text transform="translate(1329.50,318.80) scale(1.1107,1)" x="0.00" font-size="21.32" fill="#262626">0</text>
<line x1="1321.50" y1="378.50" x2="1316.50" y2="378.50" stroke="#262626" stroke-width="1.05"/>
<text transform="translate(1329.50,385.80) scale(1.0887,1)" x="-0.02 6.27" font-size="21.32" fill="#262626">-2</text>
<line x1="1035.50" y1="104.00" x2="1035.50" y2="418.50" stroke="#00FFFF" stroke-width="3.0"/>
<rect x="1029.30" y="103.70" width="110.20" height="39.90" fill="#FFFFFF" stroke="#00FFFF" stroke-width="1.1"/>
<text transform="translate(1035.04,130.65) scale(1.1260,1)" x="0.17 6.90 11.86 29.47 41.03 46.77 58.23 69.62" font-size="21.48" fill="#000000">time now</text>
<text transform="translate(1049.57,62.00) scale(1.0890,1)" x="0.14 16.30 29.89 38.67 52.92 71.50 85.99 92.22" font-size="26.05" fill="#000000">Eyrewell</text>
<text transform="translate(868.27,99.80) scale(1.0832,1)" x="0.08 7.48 10.66 13.63 20.78 23.95 32.89 40.19 47.37 54.94 58.93 66.12 73.50 77.30 84.62 91.79 95.52 105.01 111.85 115.81 120.10 127.42 134.74 142.06 149.34 153.02 160.35 167.73 171.53 178.85 186.24 190.03 197.35 204.63 207.79 216.24 223.06" font-size="12.91" fill="#000000">File Updated:09-Oct-2025 08:48:08 UTC</text>
<text transform="translate(1184.26,106.60) scale(1.1259,1)" x="0.18 13.03 16.45 24.75 33.59 38.06 46.28 50.63 55.65 63.52 70.50 78.87 82.29 91.12 95.92 99.20 107.36" font-size="15.23" fill="#000000">minute resolution</text>
<text transform="translate(1033.58,478.70) scale(1.0656,1)" x="0.05 15.40 28.95 34.80 48.58 54.62 74.48 87.45 94.27 101.19" font-size="23.12" fill="#262626">UT Time /h</text>
<text transform="translate(815.40,375.19) rotate(-90) scale(1.0751,1)" x="0.08 11.06 15.38 29.05 38.45 48.00 57.64 61.97 75.62 85.17 94.89 104.45 114.52 120.11 124.08 132.61 136.61 146.44 150.43 160.10 164.24 173.90 178.90 183.90 188.82 197.88" font-size="17.00" fill="#0000FF">X Mean Magnetic Field / nT</text>
<text transform="translate(1373.10,364.53) rotate(-90) scale(1.0857,1)" x="0.10 11.44 21.43 26.69 36.13 40.79 50.47 55.53 59.44 70.97 80.42 89.88 99.51 108.99 118.43 123.38 128.32 133.16 142.14 152.16 157.37 172.08 176.13" font-size="17.06" fill="#262626">Rate of Change / nT/min</text>
<rect x="1465.00" y="108.00" width="111.80" height="309.30" fill="#E6E6E6"/>
<rect x="1821.35" y="108.00" width="91.45" height="309.30" fill="#E6E6E6"/>
<polyline points="1465.0,336.2 1465.3,340.1 1465.6,343.4 1465.9,332.8 1466.2,339.8 1466.5,339.7 1466.9,324.9 1467.2,350.7 1467.5,345.8 1467.8,334.7 1468.1,338.3 1468.4,350.5 1468.7,337.5 1469.0,337.6 1469.3,327.8 1469.6,346.2 1470.0,341.1 1470.3,342.6 1470.6,325.2 1470.9,356.7 1471.2,341.4 1471.5,336.0 1471.8,361.2 1472.1,339.3 1472.4,327.2 1472.7,336.0 1473.0,318.0 1473.4,351.0 1473.7,336.0 1474.0,332.8 1474.3,352.0 1474.6,325.1 1474.9,345.7 1475.2,318.9 1475.5,333.7 1475.8,328.0 1476.1,355.5 1476.4,359.5 1476.8,336.7 1477.1,349.3 1477.4,338.0 1477.7,346.4 1478.0,332.5 1478.3,323.1 1478.6,322.0 1478.9,343.9 1479.2,365.9 1479.5,342.7 1479.9,335.1 1480.2,359.6 1480.5,342.5 1480.8,340.9 1481.1,342.3 1481.4,338.5 1481.7,337.2 1482.0,327.2 1482.3,345.1 1482.6,337.9 1482.9,351.6 1483.3,336.8 1483.6,323.1 1483.9,338.8 1484.2,358.0 1484.5,336.6 1484.8,332.2 1485.1,329.4 1485.4,330.5 1485.7,337.3 1486.0,329.5 1486.4,353.8 1486.7,337.6 1487.0,340.7 1487.3,353.8 1487.6,354.7 1487.9,338.1 1488.2,342.9 1488.5,345.9 1488.8,338.3 1489.1,326.9 1489.4,345.4 1489.8,347.0 1490.1,343.4 1490.4,333.1 1490.7,338.4 1491.0,335.5 1491.3,337.8 1491.6,350.9 1491.9,351.9 1492.2,345.4 1492.5,343.8 1492.8,345.1 1493.2,339.7 1493.5,339.3 1493.8,335.3 1494.1,339.4 1494.4,353.6 1494.7,345.8 1495.0,337.6 1495.3,333.7 1495.6,334.4 1495.9,342.5 1496.3,342.4 1496.6,332.0 1496.9,346.4 1497.2,336.6 1497.5,350.4 1497.8,341.0 1498.1,351.1 1498.4,336.6 1498.7,337.8 1499.0,342.2 1499.3,347.4 1499.7,343.9 1500.0,331.0 1500.3,341.3 1500.6,339.9 1500.9,336.8 1501.2,335.6 1501.5,356.4 1501.8,336.7 1502.1,324.7 1502.4,345.8 1502.8,340.9 1503.1,339.1 1503.4,346.6 1503.7,344.5 1504.0,346.9 1504.3,348.8 1504.6,342.7 1504.9,334.8 1505.2,336.6 1505.5,335.4 1505.8,341.8 1506.2,331.1 1506.5,325.6 1506.8,340.7 1507.1,327.6 1507.4,323.7 1507.7,343.6 1508.0,333.0 1508.3,344.9 1508.6,334.7 1508.9,329.2 1509.2,328.6 1509.6,335.0 1509.9,337.5 1510.2,332.3 1510.5,337.1 1510.8,326.3 1511.1,339.9 1511.4,309.4 1511.7,338.1 1512.0,347.2 1512.3,352.5 1512.7,358.8 1513.0,325.2 1513.3,348.0 1513.6,352.9 1513.9,350.9 1514.2,330.7 1514.5,344.2 1514.8,360.5 1515.1,325.4 1515.4,345.5 1515.7,351.8 1516.1,333.3 1516.4,346.4 1516.7,330.3 1517.0,332.0 1517.3,331.6 1517.6,341.8 1517.9,338.9 1518.2,345.5" fill="none" stroke="#000000" stroke-width="0.5" stroke-opacity="0.48" stroke-linejoin="round"/>
<polyline points="1518.2,345.5 1518.5,333.6 1518.8,338.3 1519.2,356.1 1519.5,344.7 1519.8,331.9 1520.1,337.0 1520.4,340.4 1520.7,343.7 1521.0,354.6 1521.3,359.9 1521.6,337.7 1521.9,310.3 1522.2,318.6 1522.6,338.9 1522.9,349.0 1523.2,371.1 1523.5,345.4 1523.8,339.0 1524.1,343.7 1524.4,327.1 1524.7,325.0 1525.0,340.7 1525.3,334.0 1525.6,341.5 1526.0,356.6 1526.3,337.3 1526.6,329.2 1526.9,334.5 1527.2,323.9 1527.5,309.4 1527.8,334.2 1528.1,348.6 1528.4,352.7 1528.7,348.4 1529.1,338.6 1529.4,330.6 1529.7,327.4 1530.0,308.0 1530.3,342.6 1530.6,342.2 1530.9,340.1 1531.2,334.2 1531.5,332.4 1531.8,337.1 1532.1,340.9 1532.5,345.6 1532.8,352.0 1533.1,354.3 1533.4,345.1 1533.7,326.1 1534.0,331.9 1534.3,338.6 1534.6,342.3 1534.9,337.0 1535.2,339.3 1535.6,345.4 1535.9,339.6 1536.2,339.1 1536.5,346.4 1536.8,346.6 1537.1,349.0 1537.4,356.6 1537.7,355.2 1538.0,339.5 1538.3,385.6 1538.6,339.4 1539.0,331.6 1539.3,329.2 1539.6,342.9 1539.9,350.5 1540.2,341.6 1540.5,338.4 1540.8,344.2 1541.1,339.8 1541.4,329.2 1541.7,325.6 1542.0,330.7 1542.4,335.8 1542.7,339.0 1543.0,343.9 1543.3,348.6 1543.6,349.7 1543.9,334.7 1544.2,327.2 1544.5,337.6 1544.8,354.0 1545.1,363.8 1545.5,347.1 1545.8,314.2 1546.1,342.8 1546.4,362.5 1546.7,346.9 1547.0,336.3 1547.3,337.7 1547.6,339.4 1547.9,345.0 1548.2,352.9 1548.5,362.7 1548.9,350.4 1549.2,337.7 1549.5,349.9 1549.8,353.2 1550.1,336.3 1550.4,319.4 1550.7,317.7 1551.0,333.9 1551.3,387.3 1551.6,309.4 1552.0,309.4 1552.3,331.6 1552.6,348.0 1552.9,347.6 1553.2,338.2 1553.5,322.9 1553.8,322.0 1554.1,346.3 1554.4,351.7 1554.7,352.0 1555.0,350.5 1555.4,333.8 1555.7,334.9 1556.0,365.1 1556.3,370.6 1556.6,365.2 1556.9,357.7 1557.2,345.7 1557.5,339.1 1557.8,318.8 1558.1,323.2 1558.4,339.0 1558.8,353.4 1559.1,343.6 1559.4,347.7 1559.7,349.4 1560.0,325.2 1560.3,313.8 1560.6,317.3 1560.9,329.5 1561.2,351.3 1561.5,347.4 1561.9,329.2 1562.2,345.1 1562.5,369.1 1562.8,345.1 1563.1,329.5 1563.4,343.1 1563.7,350.5 1564.0,340.8 1564.3,326.0 1564.6,326.1 1564.9,339.6 1565.3,333.5 1565.6,329.2 1565.9,347.8 1566.2,354.7 1566.5,339.9 1566.8,337.3 1567.1,337.4 1567.4,326.9 1567.7,326.4 1568.0,330.2 1568.4,329.2 1568.7,330.9 1569.0,329.0 1569.3,332.4 1569.6,347.5 1569.9,351.0 1570.2,332.9 1570.5,320.2 1570.8,323.0 1571.1,324.8 1571.4,332.3 1571.8,345.1 1572.1,355.3 1572.4,355.0 1572.7,352.1 1573.0,369.1 1573.3,365.7 1573.6,337.4 1573.9,320.4 1574.2,331.9 1574.5,332.1 1574.8,309.0 1575.2,332.0 1575.5,335.9 1575.8,335.6 1576.1,345.5 1576.4,348.3 1576.7,341.0 1577.0,337.2 1577.3,333.2 1577.6,331.6 1577.9,338.8 1578.3,342.7 1578.6,328.1 1578.9,322.3 1579.2,327.7 1579.5,329.7 1579.8,342.1 1580.1,357.9 1580.4,343.0 1580.7,321.3 1581.0,326.2 1581.3,344.5 1581.7,349.3 1582.0,365.5 1582.3,353.4 1582.6,342.9 1582.9,332.4 1583.2,314.0 1583.5,309.4 1583.8,309.4 1584.1,329.7 1584.4,339.7 1584.8,342.8 1585.1,341.8 1585.4,345.8 1585.7,345.2 1586.0,332.8 1586.3,322.3 1586.6,326.7 1586.9,342.4 1587.2,350.0 1587.5,356.3 1587.8,369.9 1588.2,366.0 1588.5,367.4 1588.8,340.3 1589.1,330.7 1589.4,337.2 1589.7,335.0 1590.0,330.4 1590.3,342.2 1590.6,344.0 1590.9,341.3 1591.2,345.3 1591.6,358.5 1591.9,358.5 1592.2,329.3 1592.5,317.6 1592.8,334.5 1593.1,348.0 1593.4,336.9 1593.7,333.0 1594.0,325.9 1594.3,309.4 1594.7,309.4 1595.0,320.5 1595.3,331.0 1595.6,327.3 1595.9,319.9 1596.2,319.8 1596.5,305.2 1596.8,326.6 1597.1,329.4 1597.4,327.6 1597.7,334.8 1598.1,346.2 1598.4,348.6 1598.7,349.6 1599.0,344.2 1599.3,336.7 1599.6,344.2 1599.9,350.9 1600.2,376.2 1600.5,335.0 1600.8,337.2 1601.2,361.2 1601.5,369.1 1601.8,346.7 1602.1,339.1 1602.4,343.8 1602.7,350.9 1603.0,375.5 1603.3,338.6 1603.6,313.3 1603.9,315.8 1604.2,325.3 1604.6,329.4 1604.9,329.0 1605.2,332.6 1605.5,355.6 1605.8,349.1 1606.1,319.5 1606.4,324.1 1606.7,343.9 1607.0,339.6 1607.3,329.5 1607.6,321.6 1608.0,328.4 1608.3,347.5 1608.6,355.4 1608.9,341.9 1609.2,333.8 1609.5,335.7 1609.8,340.5 1610.1,344.2 1610.4,340.6 1610.7,335.9 1611.1,334.2 1611.4,334.1 1611.7,346.9 1612.0,348.3 1612.3,336.9 1612.6,335.3 1612.9,337.9 1613.2,349.6 1613.5,351.8 1613.8,346.3 1614.1,344.6 1614.5,338.0 1614.8,330.9 1615.1,332.3 1615.4,335.4 1615.7,337.3 1616.0,337.5 1616.3,338.6 1616.6,306.0 1616.9,351.6 1617.2,334.5 1617.6,328.0 1617.9,344.8 1618.2,354.8 1618.5,337.7 1618.8,318.8 1619.1,343.9 1619.4,347.6 1619.7,331.7 1620.0,334.0 1620.3,335.0 1620.6,332.4 1621.0,334.5 1621.3,330.5 1621.6,343.2 1621.9,356.9 1622.2,344.8 1622.5,323.9 1622.8,311.7 1623.1,309.4 1623.4,321.9 1623.7,346.3 1624.0,340.1 1624.4,320.6 1624.7,314.8 1625.0,319.1 1625.3,324.4 1625.6,112.0 1625.9,378.0 1626.2,336.3 1626.5,328.4 1626.8,383.9 1627.1,370.0 1627.5,365.2 1627.8,343.6 1628.1,340.9 1628.4,347.4 1628.7,350.1" fill="none" stroke="#000000" stroke-width="0.5" stroke-opacity="0.42" stroke-linejoin="round"/>
<line x1="1465.00" y1="120.55" x2="1914.00" y2="120.55" stroke="#FFFF00" stroke-width="3.05"/>
<line x1="1465.00" y1="186.40" x2="1914.00" y2="186.40" stroke="#00FF00" stroke-width="3.05"/>
<polyline points="1464.7,365.2 1468.1,365.2 1469.8,369.4 1472.3,372.8 1474.5,370.7 1477.0,374.5 1479.6,377.9 1481.7,367.7 1483.0,360.1 1485.5,357.5 1488.1,360.9 1491.0,354.1 1492.7,343.1 1495.7,338.0 1498.3,330.3 1501.7,320.1 1505.1,312.5 1508.5,306.9 1511.0,304.6 1513.1,298.6 1515.7,302.9 1518.7,317.3 1520.8,309.3 1522.9,316.9 1526.3,316.1 1528.9,316.1 1533.1,313.9 1534.8,302.0 1536.5,280.8 1538.0,273.1 1539.5,281.6 1541.6,288.4 1544.2,296.1 1545.9,306.3 1547.6,299.5 1549.7,304.6 1551.4,315.6 1553.5,308.0 1556.1,302.0 1558.6,289.3 1560.3,280.8 1562.9,275.7 1566.3,276.5 1570.5,281.6 1573.1,288.4 1575.2,276.5 1576.9,274.0 1579.0,279.9 1581.6,285.9 1583.3,270.6 1586.3,264.6 1588.4,276.5 1590.5,290.1 1592.6,288.4 1595.6,296.1 1598.6,277.4 1600.3,281.6 1602.0,296.1 1604.5,285.9 1607.9,288.4 1610.5,278.2 1613.9,271.4 1616.4,259.5 1619.0,244.2 1621.5,249.3 1625.0,266.3 1626.2,216.6 1627.9,234.0 1628.8,251.0 1632.7,339.8 1636.5,339.8" fill="none" stroke="#0000FF" stroke-width="4.1" stroke-linejoin="round" stroke-linecap="round"/>
<line x1="1635.50" y1="339.75" x2="1914.00" y2="339.75" stroke="#0000FF" stroke-width="4.1"/>
<line x1="1464.50" y1="339.75" x2="1914.00" y2="339.75" stroke="#000000" stroke-width="1.1" stroke-dasharray="20 13.6"/>
<line x1="1464.50" y1="108.00" x2="1464.50" y2="419.00" stroke="#0000FF" stroke-width="1.1"/>
<line x1="1914.50" y1="108.00" x2="1914.50" y2="419.00" stroke="#262626" stroke-width="1.1"/>
<line x1="1464.00" y1="418.50" x2="1915.00" y2="418.50" stroke="#262626" stroke-width="1.1"/>
<text transform="translate(1457.32,447.55) scale(1.1107,1)" x="0.00" font-size="21.32" fill="#262626">0</text>
<line x1="1520.50" y1="418.50" x2="1520.50" y2="414.10" stroke="#262626" stroke-width="1.05"/>
<text transform="translate(1513.57,447.55) scale(1.1107,1)" x="0.00" font-size="21.32" fill="#262626">3</text>
<line x1="1576.50" y1="418.50" x2="1576.50" y2="414.10" stroke="#262626" stroke-width="1.05"/>
<text transform="translate(1569.82,447.55) scale(1.1107,1)" x="0.00" font-size="21.32" fill="#262626">6</text>
<line x1="1632.50" y1="418.50" x2="1632.50" y2="414.10" stroke="#262626" stroke-width="1.05"/>
<text transform="translate(1626.07,447.55) scale(1.1107,1)" x="0.00" font-size="21.32" fill="#262626">9</text>
<line x1="1689.50" y1="418.50" x2="1689.50" y2="414.10" stroke="#262626" stroke-width="1.05"/>
<text transform="translate(1675.73,447.55) scale(1.1107,1)" x="0.42 11.06" font-size="21.32" fill="#262626">12</text>
<line x1="1745.50" y1="418.50" x2="1745.50" y2="414.10" stroke="#262626" stroke-width="1.05"/>
<text transform="translate(1731.98,447.55) scale(1.1107,1)" x="0.42 11.12" font-size="21.32" fill="#262626">15</text>
<line x1="1801.50" y1="418.50" x2="1801.50" y2="414.10" stroke="#262626" stroke-width="1.05"/>
<text transform="translate(1788.23,447.55) scale(1.1107,1)" x="0.42 11.51" font-size="21.32" fill="#262626">18</text>
<line x1="1857.50" y1="418.50" x2="1857.50" y2="414.10" stroke="#262626" stroke-width="1.05"/>
<text transform="translate(1844.48,447.55) scale(1.1107,1)" x="0.29 11.18" font-size="21.32" fill="#262626">21</text>
<text transform="translate(1900.73,447.55) scale(1.1107,1)" x="0.29 11.44" font-size="21.32" fill="#262626">24</text>
<line x1="1464.50" y1="120.50" x2="1469.50" y2="120.50" stroke="#0000FF" stroke-width="1.05"/>
<text transform="translate(1429.36,127.50) scale(1.1107,1)" x="0.58 11.45" font-size="21.32" fill="#0000FF">50</text>
<line x1="1464.50" y1="164.50" x2="1469.50" y2="164.50" stroke="#0000FF" stroke-width="1.05"/>
<text transform="translate(1429.36,171.50) scale(1.1107,1)" x="0.42 11.45" font-size="21.32" fill="#0000FF">40</text>
<line x1="1464.50" y1="208.50" x2="1469.50" y2="208.50" stroke="#0000FF" stroke-width="1.05"/>
<text transform="translate(1429.36,215.50) scale(1.1107,1)" x="0.61 11.45" font-size="21.32" fill="#0000FF">30</text>
<line x1="1464.50" y1="252.50" x2="1469.50" y2="252.50" stroke="#0000FF" stroke-width="1.05"/>
<text transform="translate(1429.36,259.50) scale(1.1107,1)" x="0.29 11.45" font-size="21.32" fill="#0000FF">20</text>
<line x1="1464.50" y1="295.50" x2="1469.50" y2="295.50" stroke="#0000FF" stroke-width="1.05"/>
<text transform="translate(1429.36,302.50) scale(1.1107,1)" x="0.42 11.45" font-size="21.32" fill="#0000FF">10</text>
<line x1="1464.50" y1="339.50" x2="1469.50" y2="339.50" stroke="#0000FF" stroke-width="1.05"/>
<text transform="translate(1442.53,346.50) scale(1.1107,1)" x="0.00" font-size="21.32" fill="#0000FF">0</text>
<line x1="1464.50" y1="383.50" x2="1469.50" y2="383.50" stroke="#0000FF" stroke-width="1.05"/>
<text transform="translate(1421.89,390.50) scale(1.0972,1)" x="-0.03 6.77 18.54" font-size="21.32" fill="#0000FF">-10</text>
<line x1="1914.50" y1="120.50" x2="1909.50" y2="120.50" stroke="#262626" stroke-width="1.05"/>
<text transform="translate(1922.50,127.80) scale(1.1107,1)" x="0.00" font-size="21.32" fill="#262626">5</text>
<line x1="1914.50" y1="164.50" x2="1909.50" y2="164.50" stroke="#262626" stroke-width="1.05"/>
<text transform="translate(1922.50,171.80) scale(1.1107,1)" x="0.00" font-size="21.32" fill="#262626">4</text>
<line x1="1914.50" y1="208.50" x2="1909.50" y2="208.50" stroke="#262626" stroke-width="1.05"/>
<text transform="translate(1922.50,215.80) scale(1.1107,1)" x="0.00" font-size="21.32" fill="#262626">3</text>
<line x1="1914.50" y1="252.50" x2="1909.50" y2="252.50" stroke="#262626" stroke-width="1.05"/>
<text transform="translate(1922.50,259.80) scale(1.1107,1)" x="0.00" font-size="21.32" fill="#262626">2</text>
<line x1="1914.50" y1="295.50" x2="1909.50" y2="295.50" stroke="#262626" stroke-width="1.05"/>
<text transform="translate(1922.50,302.80) scale(1.1107,1)" x="0.00" font-size="21.32" fill="#262626">1</text>
<line x1="1914.50" y1="339.50" x2="1909.50" y2="339.50" stroke="#262626" stroke-width="1.05"/>
<text transform="translate(1922.50,346.80) scale(1.1107,1)" x="0.00" font-size="21.32" fill="#262626">0</text>
<line x1="1914.50" y1="383.50" x2="1909.50" y2="383.50" stroke="#262626" stroke-width="1.05"/>
<text transform="translate(1922.50,390.80) scale(1.0887,1)" x="-0.02 6.39" font-size="21.32" fill="#262626">-1</text>
<line x1="1630.50" y1="104.00" x2="1630.50" y2="418.50" stroke="#00FFFF" stroke-width="3.0"/>
<rect x="1624.30" y="103.70" width="110.20" height="39.90" fill="#FFFFFF" stroke="#00FFFF" stroke-width="1.1"/>
<text transform="translate(1630.04,130.65) scale(1.1260,1)" x="0.17 6.90 11.86 29.47 41.03 46.77 58.23 69.62" font-size="21.48" fill="#000000">time now</text>
<text transform="translate(1644.57,62.00) scale(1.0944,1)" x="0.13 18.33 32.81 47.07 61.34 76.07 82.10" font-size="25.99" fill="#000000">Dunedin</text>
<text transform="translate(1464.27,99.80) scale(1.0832,1)" x="0.08 7.48 10.66 13.63 20.79 23.96 32.90 40.21 47.39 54.96 58.96 66.15 73.53 77.33 84.65 91.82 95.56 105.05 111.89 115.86 120.15 127.47 134.80 142.12 149.40 153.09 160.41 167.80 171.60 178.92 186.31 190.11 197.43 204.71 207.88 216.33 223.15" font-size="12.92" fill="#000000">File Updated:09-Oct-2025 08:49:02 UTC</text>
<text transform="translate(1779.26,106.60) scale(1.1259,1)" x="0.18 12.96 16.37 24.63 33.42 37.87 46.05 50.37 55.37 63.19 70.15 78.47 81.87 90.66 95.44 98.70 106.81" font-size="15.15" fill="#000000">minute resolution</text>
<text transform="translate(1628.08,478.70) scale(1.0656,1)" x="0.05 15.40 28.95 34.80 48.58 54.62 74.48 87.45 94.27 101.19" font-size="23.12" fill="#262626">UT Time /h</text>
<text transform="translate(1411.40,375.19) rotate(-90) scale(1.0751,1)" x="0.08 11.06 15.38 29.05 38.45 48.00 57.64 61.97 75.62 85.17 94.89 104.45 114.52 120.11 124.08 132.61 136.61 146.44 150.43 160.10 164.24 173.90 178.90 183.90 188.82 197.88" font-size="17.00" fill="#0000FF">X Mean Magnetic Field / nT</text>
<text transform="translate(1966.60,364.53) rotate(-90) scale(1.0857,1)" x="0.10 11.44 21.43 26.69 36.13 40.79 50.47 55.53 59.44 70.97 80.42 89.88 99.51 108.99 118.43 123.38 128.32 133.16 142.14 152.16 157.37 172.08 176.13" font-size="17.06" fill="#262626">Rate of Change / nT/min</text>
<rect x="276.00" y="537.40" width="111.55" height="308.90" fill="#E6E6E6"/>
<rect x="633.93" y="537.40" width="92.27" height="308.90" fill="#E6E6E6"/>
<line x1="275.50" y1="692.50" x2="727.50" y2="692.50" stroke="#000000" stroke-width="1.1"/>
<line x1="275.50" y1="537.00" x2="275.50" y2="848.00" stroke="#262626" stroke-width="1.1"/>
<line x1="275.00" y1="847.50" x2="728.00" y2="847.50" stroke="#262626" stroke-width="1.1"/>
<line x1="275.50" y1="537.50" x2="280.50" y2="537.50" stroke="#262626" stroke-width="1.1"/>
<line x1="275.50" y1="614.50" x2="280.50" y2="614.50" stroke="#262626" stroke-width="1.1"/>
<line x1="275.50" y1="770.50" x2="280.50" y2="770.50" stroke="#262626" stroke-width="1.1"/>
<line x1="293.50" y1="847.50" x2="293.50" y2="843.10" stroke="#262626" stroke-width="1.05"/>
<line x1="312.50" y1="847.50" x2="312.50" y2="843.10" stroke="#262626" stroke-width="1.05"/>
<line x1="331.50" y1="847.50" x2="331.50" y2="843.10" stroke="#262626" stroke-width="1.05"/>
<line x1="350.50" y1="847.50" x2="350.50" y2="843.10" stroke="#262626" stroke-width="1.05"/>
<line x1="369.50" y1="847.50" x2="369.50" y2="843.10" stroke="#262626" stroke-width="1.05"/>
<line x1="388.50" y1="847.50" x2="388.50" y2="843.10" stroke="#262626" stroke-width="1.05"/>
<line x1="406.50" y1="847.50" x2="406.50" y2="843.10" stroke="#262626" stroke-width="1.05"/>
<line x1="425.50" y1="847.50" x2="425.50" y2="843.10" stroke="#262626" stroke-width="1.05"/>
<line x1="444.50" y1="847.50" x2="444.50" y2="843.10" stroke="#262626" stroke-width="1.05"/>
<line x1="463.50" y1="847.50" x2="463.50" y2="843.10" stroke="#262626" stroke-width="1.05"/>
<line x1="482.50" y1="847.50" x2="482.50" y2="843.10" stroke="#262626" stroke-width="1.05"/>
<line x1="501.50" y1="847.50" x2="501.50" y2="843.10" stroke="#262626" stroke-width="1.05"/>
<line x1="519.50" y1="847.50" x2="519.50" y2="843.10" stroke="#262626" stroke-width="1.05"/>
<line x1="538.50" y1="847.50" x2="538.50" y2="843.10" stroke="#262626" stroke-width="1.05"/>
<line x1="557.50" y1="847.50" x2="557.50" y2="843.10" stroke="#262626" stroke-width="1.05"/>
<line x1="576.50" y1="847.50" x2="576.50" y2="843.10" stroke="#262626" stroke-width="1.05"/>
<line x1="595.50" y1="847.50" x2="595.50" y2="843.10" stroke="#262626" stroke-width="1.05"/>
<line x1="614.50" y1="847.50" x2="614.50" y2="843.10" stroke="#262626" stroke-width="1.05"/>
<line x1="632.50" y1="847.50" x2="632.50" y2="843.10" stroke="#262626" stroke-width="1.05"/>
<line x1="651.50" y1="847.50" x2="651.50" y2="843.10" stroke="#262626" stroke-width="1.05"/>
<line x1="670.50" y1="847.50" x2="670.50" y2="843.10" stroke="#262626" stroke-width="1.05"/>
<line x1="689.50" y1="847.50" x2="689.50" y2="843.10" stroke="#262626" stroke-width="1.05"/>
<line x1="708.50" y1="847.50" x2="708.50" y2="843.10" stroke="#262626" stroke-width="1.05"/>
<line x1="727.50" y1="847.50" x2="727.50" y2="843.10" stroke="#262626" stroke-width="1.05"/>
<text transform="translate(268.32,876.35) scale(1.1107,1)" x="0.00" font-size="21.32" fill="#262626">0</text>
<text transform="translate(324.82,876.35) scale(1.1107,1)" x="0.00" font-size="21.32" fill="#262626">3</text>
<text transform="translate(381.32,876.35) scale(1.1107,1)" x="0.00" font-size="21.32" fill="#262626">6</text>
<text transform="translate(437.82,876.35) scale(1.1107,1)" x="0.00" font-size="21.32" fill="#262626">9</text>
<text transform="translate(487.73,876.35) scale(1.1107,1)" x="0.42 11.06" font-size="21.32" fill="#262626">12</text>
<text transform="translate(544.23,876.35) scale(1.1107,1)" x="0.42 11.12" font-size="21.32" fill="#262626">15</text>
<text transform="translate(600.73,876.35) scale(1.1107,1)" x="0.42 11.51" font-size="21.32" fill="#262626">18</text>
<text transform="translate(657.23,876.35) scale(1.1107,1)" x="0.29 11.18" font-size="21.32" fill="#262626">21</text>
<text transform="translate(713.73,876.35) scale(1.1107,1)" x="0.29 11.44" font-size="21.32" fill="#262626">24</text>
<line x1="441.50" y1="533.50" x2="441.50" y2="847.50" stroke="#00FFFF" stroke-width="3.0"/>
<rect x="435.30" y="532.60" width="110.20" height="39.90" fill="#FFFFFF" stroke="#00FFFF" stroke-width="1.1"/>
<text transform="translate(441.09,559.80) scale(1.1260,1)" x="0.17 6.90 11.86 29.49 41.05 46.80 58.26 69.65" font-size="21.49" fill="#000000">time now</text>
<rect x="869.00" y="537.40" width="112.40" height="308.90" fill="#E6E6E6"/>
<rect x="1227.72" y="537.40" width="92.48" height="308.90" fill="#E6E6E6"/>
<rect x="1026.25" y="568.00" width="6.75" height="15.00" fill="#FF0000"/>
<rect x="1026.25" y="583.00" width="6.75" height="16.00" fill="#FFFF00"/>
<rect x="1026.25" y="599.00" width="6.75" height="31.75" fill="#00FF00"/>
<rect x="1026.25" y="630.75" width="6.75" height="15.50" fill="#FFFF00"/>
<rect x="1026.25" y="646.25" width="6.75" height="15.75" fill="#FF0000"/>
<rect x="1027.50" y="754.25" width="6.25" height="32.00" fill="#00FF00"/>
<line x1="868.50" y1="692.50" x2="1321.50" y2="692.50" stroke="#000000" stroke-width="1.1"/>
<line x1="868.50" y1="537.00" x2="868.50" y2="848.00" stroke="#262626" stroke-width="1.1"/>
<line x1="868.00" y1="847.50" x2="1322.00" y2="847.50" stroke="#262626" stroke-width="1.1"/>
<line x1="868.50" y1="537.50" x2="873.50" y2="537.50" stroke="#262626" stroke-width="1.1"/>
<line x1="868.50" y1="614.50" x2="873.50" y2="614.50" stroke="#262626" stroke-width="1.1"/>
<line x1="868.50" y1="770.50" x2="873.50" y2="770.50" stroke="#262626" stroke-width="1.1"/>
<line x1="886.50" y1="847.50" x2="886.50" y2="843.10" stroke="#262626" stroke-width="1.05"/>
<line x1="905.50" y1="847.50" x2="905.50" y2="843.10" stroke="#262626" stroke-width="1.05"/>
<line x1="924.50" y1="847.50" x2="924.50" y2="843.10" stroke="#262626" stroke-width="1.05"/>
<line x1="943.50" y1="847.50" x2="943.50" y2="843.10" stroke="#262626" stroke-width="1.05"/>
<line x1="962.50" y1="847.50" x2="962.50" y2="843.10" stroke="#262626" stroke-width="1.05"/>
<line x1="981.50" y1="847.50" x2="981.50" y2="843.10" stroke="#262626" stroke-width="1.05"/>
<line x1="1000.50" y1="847.50" x2="1000.50" y2="843.10" stroke="#262626" stroke-width="1.05"/>
<line x1="1019.50" y1="847.50" x2="1019.50" y2="843.10" stroke="#262626" stroke-width="1.05"/>
<line x1="1037.50" y1="847.50" x2="1037.50" y2="843.10" stroke="#262626" stroke-width="1.05"/>
<line x1="1056.50" y1="847.50" x2="1056.50" y2="843.10" stroke="#262626" stroke-width="1.05"/>
<line x1="1075.50" y1="847.50" x2="1075.50" y2="843.10" stroke="#262626" stroke-width="1.05"/>
<line x1="1094.50" y1="847.50" x2="1094.50" y2="843.10" stroke="#262626" stroke-width="1.05"/>
<line x1="1113.50" y1="847.50" x2="1113.50" y2="843.10" stroke="#262626" stroke-width="1.05"/>
<line x1="1132.50" y1="847.50" x2="1132.50" y2="843.10" stroke="#262626" stroke-width="1.05"/>
<line x1="1151.50" y1="847.50" x2="1151.50" y2="843.10" stroke="#262626" stroke-width="1.05"/>
<line x1="1170.50" y1="847.50" x2="1170.50" y2="843.10" stroke="#262626" stroke-width="1.05"/>
<line x1="1188.50" y1="847.50" x2="1188.50" y2="843.10" stroke="#262626" stroke-width="1.05"/>
<line x1="1207.50" y1="847.50" x2="1207.50" y2="843.10" stroke="#262626" stroke-width="1.05"/>
<line x1="1226.50" y1="847.50" x2="1226.50" y2="843.10" stroke="#262626" stroke-width="1.05"/>
<line x1="1245.50" y1="847.50" x2="1245.50" y2="843.10" stroke="#262626" stroke-width="1.05"/>
<line x1="1264.50" y1="847.50" x2="1264.50" y2="843.10" stroke="#262626" stroke-width="1.05"/>
<line x1="1283.50" y1="847.50" x2="1283.50" y2="843.10" stroke="#262626" stroke-width="1.05"/>
<line x1="1302.50" y1="847.50" x2="1302.50" y2="843.10" stroke="#262626" stroke-width="1.05"/>
<line x1="1321.50" y1="847.50" x2="1321.50" y2="843.10" stroke="#262626" stroke-width="1.05"/>
<text transform="translate(861.32,876.35) scale(1.1107,1)" x="0.00" font-size="21.32" fill="#262626">0</text>
<text transform="translate(917.94,876.35) scale(1.1107,1)" x="0.00" font-size="21.32" fill="#262626">3</text>
<text transform="translate(974.57,876.35) scale(1.1107,1)" x="0.00" font-size="21.32" fill="#262626">6</text>
<text transform="translate(1031.19,876.35) scale(1.1107,1)" x="0.00" font-size="21.32" fill="#262626">9</text>
<text transform="translate(1081.23,876.35) scale(1.1107,1)" x="0.42 11.06" font-size="21.32" fill="#262626">12</text>
<text transform="translate(1137.86,876.35) scale(1.1107,1)" x="0.42 11.12" font-size="21.32" fill="#262626">15</text>
<text transform="translate(1194.48,876.35) scale(1.1107,1)" x="0.42 11.51" font-size="21.32" fill="#262626">18</text>
<text transform="translate(1251.11,876.35) scale(1.1107,1)" x="0.29 11.18" font-size="21.32" fill="#262626">21</text>
<text transform="translate(1307.73,876.35) scale(1.1107,1)" x="0.29 11.44" font-size="21.32" fill="#262626">24</text>
<line x1="1035.50" y1="533.50" x2="1035.50" y2="847.50" stroke="#00FFFF" stroke-width="3.0"/>
<rect x="1029.30" y="532.60" width="110.20" height="39.90" fill="#FFFFFF" stroke="#00FFFF" stroke-width="1.1"/>
<text transform="translate(1035.09,559.80) scale(1.1260,1)" x="0.17 6.90 11.86 29.49 41.05 46.80 58.26 69.65" font-size="21.49" fill="#000000">time now</text>
<rect x="1465.00" y="537.40" width="111.80" height="308.90" fill="#E6E6E6"/>
<rect x="1821.35" y="537.40" width="91.85" height="308.90" fill="#E6E6E6"/>
<rect x="1623.00" y="599.00" width="6.25" height="31.75" fill="#00FF00"/>
<line x1="1464.50" y1="692.50" x2="1914.50" y2="692.50" stroke="#000000" stroke-width="1.1"/>
<line x1="1464.50" y1="537.00" x2="1464.50" y2="848.00" stroke="#262626" stroke-width="1.1"/>
<line x1="1464.00" y1="847.50" x2="1915.00" y2="847.50" stroke="#262626" stroke-width="1.1"/>
<line x1="1464.50" y1="537.50" x2="1469.50" y2="537.50" stroke="#262626" stroke-width="1.1"/>
<line x1="1464.50" y1="614.50" x2="1469.50" y2="614.50" stroke="#262626" stroke-width="1.1"/>
<line x1="1464.50" y1="770.50" x2="1469.50" y2="770.50" stroke="#262626" stroke-width="1.1"/>
<line x1="1482.50" y1="847.50" x2="1482.50" y2="843.10" stroke="#262626" stroke-width="1.05"/>
<line x1="1501.50" y1="847.50" x2="1501.50" y2="843.10" stroke="#262626" stroke-width="1.05"/>
<line x1="1520.50" y1="847.50" x2="1520.50" y2="843.10" stroke="#262626" stroke-width="1.05"/>
<line x1="1539.50" y1="847.50" x2="1539.50" y2="843.10" stroke="#262626" stroke-width="1.05"/>
<line x1="1557.50" y1="847.50" x2="1557.50" y2="843.10" stroke="#262626" stroke-width="1.05"/>
<line x1="1576.50" y1="847.50" x2="1576.50" y2="843.10" stroke="#262626" stroke-width="1.05"/>
<line x1="1595.50" y1="847.50" x2="1595.50" y2="843.10" stroke="#262626" stroke-width="1.05"/>
<line x1="1614.50" y1="847.50" x2="1614.50" y2="843.10" stroke="#262626" stroke-width="1.05"/>
<line x1="1632.50" y1="847.50" x2="1632.50" y2="843.10" stroke="#262626" stroke-width="1.05"/>
<line x1="1651.50" y1="847.50" x2="1651.50" y2="843.10" stroke="#262626" stroke-width="1.05"/>
<line x1="1670.50" y1="847.50" x2="1670.50" y2="843.10" stroke="#262626" stroke-width="1.05"/>
<line x1="1689.50" y1="847.50" x2="1689.50" y2="843.10" stroke="#262626" stroke-width="1.05"/>
<line x1="1707.50" y1="847.50" x2="1707.50" y2="843.10" stroke="#262626" stroke-width="1.05"/>
<line x1="1726.50" y1="847.50" x2="1726.50" y2="843.10" stroke="#262626" stroke-width="1.05"/>
<line x1="1745.50" y1="847.50" x2="1745.50" y2="843.10" stroke="#262626" stroke-width="1.05"/>
<line x1="1764.50" y1="847.50" x2="1764.50" y2="843.10" stroke="#262626" stroke-width="1.05"/>
<line x1="1782.50" y1="847.50" x2="1782.50" y2="843.10" stroke="#262626" stroke-width="1.05"/>
<line x1="1801.50" y1="847.50" x2="1801.50" y2="843.10" stroke="#262626" stroke-width="1.05"/>
<line x1="1820.50" y1="847.50" x2="1820.50" y2="843.10" stroke="#262626" stroke-width="1.05"/>
<line x1="1839.50" y1="847.50" x2="1839.50" y2="843.10" stroke="#262626" stroke-width="1.05"/>
<line x1="1857.50" y1="847.50" x2="1857.50" y2="843.10" stroke="#262626" stroke-width="1.05"/>
<line x1="1876.50" y1="847.50" x2="1876.50" y2="843.10" stroke="#262626" stroke-width="1.05"/>
<line x1="1895.50" y1="847.50" x2="1895.50" y2="843.10" stroke="#262626" stroke-width="1.05"/>
<line x1="1914.50" y1="847.50" x2="1914.50" y2="843.10" stroke="#262626" stroke-width="1.05"/>
<text transform="translate(1457.32,876.35) scale(1.1107,1)" x="0.00" font-size="21.32" fill="#262626">0</text>
<text transform="translate(1513.57,876.35) scale(1.1107,1)" x="0.00" font-size="21.32" fill="#262626">3</text>
<text transform="translate(1569.82,876.35) scale(1.1107,1)" x="0.00" font-size="21.32" fill="#262626">6</text>
<text transform="translate(1626.07,876.35) scale(1.1107,1)" x="0.00" font-size="21.32" fill="#262626">9</text>
<text transform="translate(1675.73,876.35) scale(1.1107,1)" x="0.42 11.06" font-size="21.32" fill="#262626">12</text>
<text transform="translate(1731.98,876.35) scale(1.1107,1)" x="0.42 11.12" font-size="21.32" fill="#262626">15</text>
<text transform="translate(1788.23,876.35) scale(1.1107,1)" x="0.42 11.51" font-size="21.32" fill="#262626">18</text>
<text transform="translate(1844.48,876.35) scale(1.1107,1)" x="0.29 11.18" font-size="21.32" fill="#262626">21</text>
<text transform="translate(1900.73,876.35) scale(1.1107,1)" x="0.29 11.44" font-size="21.32" fill="#262626">24</text>
<line x1="1630.50" y1="533.50" x2="1630.50" y2="847.50" stroke="#00FFFF" stroke-width="3.0"/>
<rect x="1624.30" y="532.60" width="110.20" height="39.90" fill="#FFFFFF" stroke="#00FFFF" stroke-width="1.1"/>
<text transform="translate(1630.09,559.80) scale(1.1260,1)" x="0.17 6.90 11.86 29.49 41.05 46.80 58.26 69.65" font-size="21.49" fill="#000000">time now</text>
<text transform="translate(736.10,605.80) scale(1.1451,1)" x="-0.05 9.80 21.87 26.93 37.16 47.57 51.97 63.96 69.06 79.07 86.67" font-size="17.17" fill="#1F1F1F" font-weight="bold">dB/dT Alert</text>
<text transform="translate(735.70,761.00) scale(1.1480,1)" x="0.19 12.12 16.44 28.42 33.44 43.41 50.96" font-size="17.35" fill="#0000FF" font-weight="bold">B Alert</text>
<text transform="translate(1329.85,605.80) scale(1.1451,1)" x="-0.05 9.80 21.87 26.93 37.16 47.57 51.97 63.96 69.06 79.07 86.67" font-size="17.17" fill="#1F1F1F" font-weight="bold">dB/dT Alert</text>
<text transform="translate(1329.45,761.00) scale(1.1480,1)" x="0.19 12.12 16.44 28.42 33.44 43.41 50.96" font-size="17.35" fill="#0000FF" font-weight="bold">B Alert</text>
<rect x="268.00" y="881.65" width="159.80" height="40.35" fill="#00FF00"/>
<text transform="translate(274.70,908.80) scale(1.1503,1)" x="0.22 18.08 22.70 33.94 45.56 52.70 58.09 69.18 80.05 86.67 91.51 102.32 107.74 114.21" font-size="21.50" fill="#000000">minor activity</text>
<rect x="432.00" y="881.65" width="197.10" height="40.35" fill="#FFFF00"/>
<text transform="translate(438.41,908.80) scale(1.1395,1)" x="0.24 17.65 28.99 40.37 52.09 59.01 71.13 77.31 88.77 94.24 105.42 116.37 123.04 127.96 138.84 144.32 150.88" font-size="21.45" fill="#000000">moderate activity</text>
<rect x="629.10" y="881.65" width="165.65" height="40.35" fill="#FF0000"/>
<text transform="translate(635.77,908.80) scale(1.1448,1)" x="0.39 10.96 17.57 24.37 35.59 47.01 58.55 63.92 74.99 85.83 92.41 97.23 108.00 113.39 119.85" font-size="21.44" fill="#000000">strong activity</text>
<rect x="1252.10" y="881.75" width="195.00" height="40.25" fill="#00FF00"/>
<text transform="translate(1258.77,908.75) scale(1.1021,1)" x="-0.03 14.36 26.63 34.37 41.65 53.45 66.14 72.81 77.97 97.31 109.39 116.84 129.04 134.02 146.01 158.18" font-size="21.60" fill="#000000">Current Warning:</text>
<rect x="1449.05" y="876.30" width="94.75" height="50.70" fill="#00FF00"/>
<text transform="translate(1455.34,911.50) scale(1.1190,1)" x="0.43 18.15 26.83 44.82 53.76" font-size="32.50" fill="#000000">2.0/9</text>
<rect x="276.00" y="935.00" width="408.50" height="330.10" fill="#E6E6E6"/>
<rect x="1574.00" y="935.00" width="340.20" height="330.10" fill="#E6E6E6"/>
<rect x="844.60" y="1229.50" width="10.85" height="37.00" fill="#00FF00" stroke="#000000" stroke-width="1.05"/>
<rect x="855.45" y="1229.50" width="12.05" height="37.00" fill="#00FF00" stroke="#000000" stroke-width="1.05"/>
<line x1="275.50" y1="935.00" x2="275.50" y2="1267.00" stroke="#262626" stroke-width="1.1"/>
<line x1="275.00" y1="1266.50" x2="1915.00" y2="1266.50" stroke="#262626" stroke-width="1.1"/>
<line x1="343.50" y1="1266.50" x2="343.50" y2="1248.90" stroke="#262626" stroke-width="1.05"/>
<line x1="411.50" y1="1266.50" x2="411.50" y2="1248.90" stroke="#262626" stroke-width="1.05"/>
<line x1="480.50" y1="1266.50" x2="480.50" y2="1248.90" stroke="#262626" stroke-width="1.05"/>
<line x1="548.50" y1="1266.50" x2="548.50" y2="1248.90" stroke="#262626" stroke-width="1.05"/>
<line x1="616.50" y1="1266.50" x2="616.50" y2="1248.90" stroke="#262626" stroke-width="1.05"/>
<line x1="685.50" y1="1266.50" x2="685.50" y2="1248.90" stroke="#262626" stroke-width="1.05"/>
<line x1="753.50" y1="1266.50" x2="753.50" y2="1248.90" stroke="#262626" stroke-width="1.05"/>
<line x1="821.50" y1="1266.50" x2="821.50" y2="1248.90" stroke="#262626" stroke-width="1.05"/>
<line x1="889.50" y1="1266.50" x2="889.50" y2="1248.90" stroke="#262626" stroke-width="1.05"/>
<line x1="958.50" y1="1266.50" x2="958.50" y2="1248.90" stroke="#262626" stroke-width="1.05"/>
<line x1="1026.50" y1="1266.50" x2="1026.50" y2="1248.90" stroke="#262626" stroke-width="1.05"/>
<line x1="1094.50" y1="1266.50" x2="1094.50" y2="1248.90" stroke="#262626" stroke-width="1.05"/>
<line x1="1163.50" y1="1266.50" x2="1163.50" y2="1248.90" stroke="#262626" stroke-width="1.05"/>
<line x1="1231.50" y1="1266.50" x2="1231.50" y2="1248.90" stroke="#262626" stroke-width="1.05"/>
<line x1="1299.50" y1="1266.50" x2="1299.50" y2="1248.90" stroke="#262626" stroke-width="1.05"/>
<line x1="1367.50" y1="1266.50" x2="1367.50" y2="1248.90" stroke="#262626" stroke-width="1.05"/>
<line x1="1436.50" y1="1266.50" x2="1436.50" y2="1248.90" stroke="#262626" stroke-width="1.05"/>
<line x1="1504.50" y1="1266.50" x2="1504.50" y2="1248.90" stroke="#262626" stroke-width="1.05"/>
<line x1="1572.50" y1="1266.50" x2="1572.50" y2="1248.90" stroke="#262626" stroke-width="1.05"/>
<line x1="1641.50" y1="1266.50" x2="1641.50" y2="1248.90" stroke="#262626" stroke-width="1.05"/>
<line x1="1709.50" y1="1266.50" x2="1709.50" y2="1248.90" stroke="#262626" stroke-width="1.05"/>
<line x1="1777.50" y1="1266.50" x2="1777.50" y2="1248.90" stroke="#262626" stroke-width="1.05"/>
<line x1="1846.50" y1="1266.50" x2="1846.50" y2="1248.90" stroke="#262626" stroke-width="1.05"/>
<line x1="1914.50" y1="1266.50" x2="1914.50" y2="1248.90" stroke="#262626" stroke-width="1.05"/>
<text transform="translate(268.52,1295.00) scale(1.1107,1)" x="0.00" font-size="21.32" fill="#262626">0</text>
<text transform="translate(336.81,1295.00) scale(1.1107,1)" x="0.00" font-size="21.32" fill="#262626">1</text>
<text transform="translate(405.10,1295.00) scale(1.1107,1)" x="0.00" font-size="21.32" fill="#262626">2</text>
<text transform="translate(473.39,1295.00) scale(1.1107,1)" x="0.00" font-size="21.32" fill="#262626">3</text>
<text transform="translate(541.68,1295.00) scale(1.1107,1)" x="0.00" font-size="21.32" fill="#262626">4</text>
<text transform="translate(609.97,1295.00) scale(1.1107,1)" x="0.00" font-size="21.32" fill="#262626">5</text>
<text transform="translate(678.27,1295.00) scale(1.1107,1)" x="0.00" font-size="21.32" fill="#262626">6</text>
<text transform="translate(746.56,1295.00) scale(1.1107,1)" x="0.00" font-size="21.32" fill="#262626">7</text>
<text transform="translate(814.85,1295.00) scale(1.1107,1)" x="0.00" font-size="21.32" fill="#262626">8</text>
<text transform="translate(883.14,1295.00) scale(1.1107,1)" x="0.00" font-size="21.32" fill="#262626">9</text>
<text transform="translate(944.85,1295.00) scale(1.1107,1)" x="0.42 11.45" font-size="21.32" fill="#262626">10</text>
<text transform="translate(1013.14,1295.00) scale(1.1107,1)" x="0.42 11.18" font-size="21.32" fill="#262626">11</text>
<text transform="translate(1081.43,1295.00) scale(1.1107,1)" x="0.42 11.06" font-size="21.32" fill="#262626">12</text>
<text transform="translate(1149.72,1295.00) scale(1.1107,1)" x="0.42 11.30" font-size="21.32" fill="#262626">13</text>
<text transform="translate(1218.01,1295.00) scale(1.1107,1)" x="0.42 11.44" font-size="21.32" fill="#262626">14</text>
<text transform="translate(1286.31,1295.00) scale(1.1107,1)" x="0.42 11.12" font-size="21.32" fill="#262626">15</text>
<text transform="translate(1354.60,1295.00) scale(1.1107,1)" x="0.42 11.62" font-size="21.32" fill="#262626">16</text>
<text transform="translate(1422.89,1295.00) scale(1.1107,1)" x="0.42 11.34" font-size="21.32" fill="#262626">17</text>
<text transform="translate(1491.18,1295.00) scale(1.1107,1)" x="0.42 11.51" font-size="21.32" fill="#262626">18</text>
<text transform="translate(1559.47,1295.00) scale(1.1107,1)" x="0.42 11.56" font-size="21.32" fill="#262626">19</text>
<text transform="translate(1627.76,1295.00) scale(1.1107,1)" x="0.29 11.45" font-size="21.32" fill="#262626">20</text>
<text transform="translate(1696.06,1295.00) scale(1.1107,1)" x="0.29 11.18" font-size="21.32" fill="#262626">21</text>
<text transform="translate(1764.35,1295.00) scale(1.1107,1)" x="0.29 11.06" font-size="21.32" fill="#262626">22</text>
<text transform="translate(1832.64,1295.00) scale(1.1107,1)" x="0.29 11.30" font-size="21.32" fill="#262626">23</text>
<text transform="translate(251.83,1273.90) scale(1.1107,1)" x="0.00" font-size="21.32" fill="#262626">0</text>
<line x1="275.50" y1="1192.50" x2="292.00" y2="1192.50" stroke="#262626" stroke-width="1.05"/>
<text transform="translate(251.83,1199.90) scale(1.1107,1)" x="0.00" font-size="21.32" fill="#262626">2</text>
<line x1="275.50" y1="1119.50" x2="292.00" y2="1119.50" stroke="#262626" stroke-width="1.05"/>
<text transform="translate(251.83,1126.90) scale(1.1107,1)" x="0.00" font-size="21.32" fill="#262626">4</text>
<line x1="275.50" y1="1045.50" x2="292.00" y2="1045.50" stroke="#262626" stroke-width="1.05"/>
<text transform="translate(251.83,1052.90) scale(1.1107,1)" x="0.00" font-size="21.32" fill="#262626">6</text>
<line x1="275.50" y1="971.50" x2="292.00" y2="971.50" stroke="#262626" stroke-width="1.05"/>
<text transform="translate(251.83,978.90) scale(1.1107,1)" x="0.00" font-size="21.32" fill="#262626">8</text>
<line x1="878.50" y1="933.00" x2="878.50" y2="1266.50" stroke="#00FFFF" stroke-width="3.0"/>
<rect x="872.45" y="933.35" width="110.20" height="39.90" fill="#FFFFFF" stroke="#00FFFF" stroke-width="1.1"/>
<text transform="translate(878.94,960.45) scale(1.1260,1)" x="0.17 6.84 11.75 29.21 40.66 46.36 57.71 68.99" font-size="21.29" fill="#000000">time now</text>
<text transform="translate(240.60,1190.16) rotate(-90) scale(1.0804,1)" x="0.60 21.94 35.25 43.53 56.95 62.52 75.78 88.98 94.86 109.73 122.93 128.49 141.55 154.08" font-size="23.52" fill="#262626">Warning Values</text>
<text transform="translate(1021.57,1326.75) scale(1.0523,1)" x="-0.60 13.72 20.17 40.81 54.31 60.52 76.51 89.50 105.86 113.02 120.18 127.29" font-size="23.68" fill="#262626">Time UTC / h</text>
<text transform="translate(848.21,1359.25) scale(1.0931,1)" x="0.11 11.24 22.62 33.68 40.42 46.48 58.55 70.62 82.49 95.02 101.61 113.50 125.72 131.94 137.20 149.62 161.67 173.71 179.79 191.89 203.95 209.09 224.78 236.12 242.86 248.95 261.05 273.15 285.25 297.31 303.39 315.49 327.73 333.99 346.09 358.33 364.59 376.70 388.75 394.12 408.95 421.59 435.92" font-size="21.46" fill="#000000">Last updated: Thu 09 Oct 2025 21:50:35 NZDT</text>
</svg>
</body></html>
